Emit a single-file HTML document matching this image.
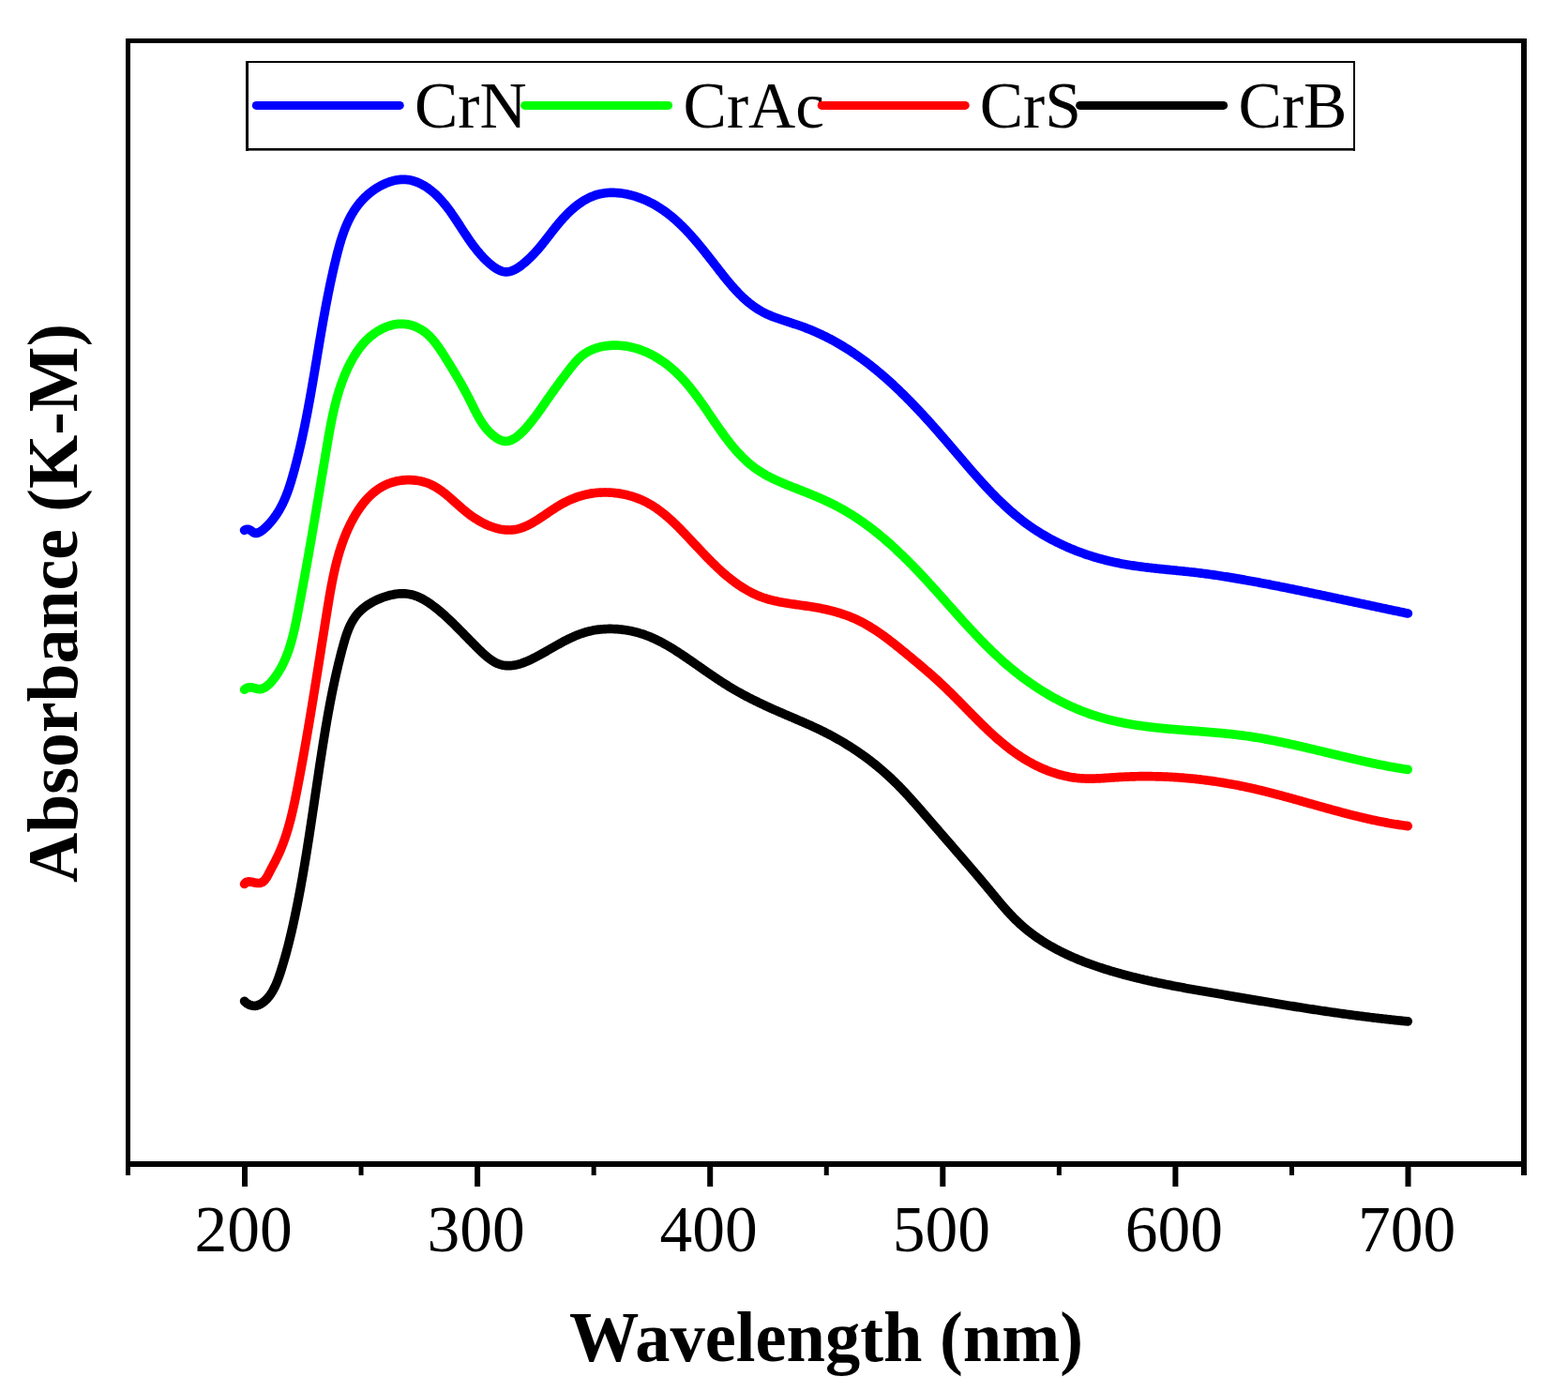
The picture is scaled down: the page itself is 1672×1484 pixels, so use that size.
<!DOCTYPE html>
<html><head><meta charset="utf-8"><title>Absorbance (K-M) vs Wavelength</title><style>html,body{margin:0;padding:0;background:#fff;}svg{display:block;}</style></head><body>
<svg width="1672" height="1484" viewBox="0 0 1672 1484">
<rect x="0" y="0" width="1672" height="1484" fill="#fff"/>
<g fill="#000">
<rect x="134" y="41" width="5" height="1212"/>
<rect x="1622" y="41" width="6" height="1212"/>
<rect x="134" y="41" width="1494" height="5"/>
<rect x="134" y="1238" width="1494" height="6"/>
<rect x="258.00" y="1244" width="6" height="21"/>
<rect x="506.10" y="1244" width="6" height="21"/>
<rect x="754.20" y="1244" width="6" height="21"/>
<rect x="1002.30" y="1244" width="6" height="21"/>
<rect x="1250.40" y="1244" width="6" height="21"/>
<rect x="1498.50" y="1244" width="6" height="21"/>
<rect x="382.55" y="1244" width="5" height="9"/>
<rect x="630.65" y="1244" width="5" height="9"/>
<rect x="878.75" y="1244" width="5" height="9"/>
<rect x="1126.85" y="1244" width="5" height="9"/>
<rect x="1374.95" y="1244" width="5" height="9"/>
</g>
<g font-family="Liberation Serif, serif" font-size="69.5" text-anchor="middle" fill="#000">
<text x="259.50" y="1334">200</text>
<text x="507.60" y="1334">300</text>
<text x="755.70" y="1334">400</text>
<text x="1003.80" y="1334">500</text>
<text x="1251.90" y="1334">600</text>
<text x="1500.00" y="1334">700</text>
</g>
<text x="607" y="1451" font-family="Liberation Serif, serif" font-weight="bold" font-size="76" textLength="548" lengthAdjust="spacingAndGlyphs">Wavelength (nm)</text>
<text transform="translate(82,941) rotate(-90)" x="0" y="0" font-family="Liberation Serif, serif" font-weight="bold" font-size="76" textLength="596" lengthAdjust="spacingAndGlyphs">Absorbance (K-M)</text>
<g fill="#000">
<rect x="262" y="65" width="3" height="96"/>
<rect x="1443" y="65" width="2" height="96"/>
<rect x="262" y="65" width="1183" height="2"/>
<rect x="262" y="158" width="1183" height="2.6"/>
</g>
<g font-family="Liberation Serif, serif" font-size="69.5" fill="#000">
<text x="441.95" y="136">CrN</text>
<text x="728.55" y="136">CrAc</text>
<text x="1044.75" y="136">CrS</text>
<text x="1320.55" y="136">CrB</text>
</g>
<g stroke-width="9" stroke-linecap="round" fill="none">
<line x1="273.30" y1="112.4" x2="426.30" y2="112.4" stroke="#0000ff"/>
<line x1="559.60" y1="112.4" x2="712.60" y2="112.4" stroke="#00ff00"/>
<line x1="876.20" y1="112.4" x2="1029.20" y2="112.4" stroke="#ff0000"/>
<line x1="1151.60" y1="112.4" x2="1304.60" y2="112.4" stroke="#000000"/>
</g>
<g stroke-width="9.7" stroke-linecap="round" stroke-linejoin="round" fill="none">
<path d="M260.60,1067.34 L261.87,1068.53 L263.19,1069.56 L264.54,1070.43 L265.92,1071.14 L267.31,1071.67 L268.71,1072.05 L270.12,1072.26 L271.51,1072.30 L272.89,1072.18 L274.24,1071.90 L275.56,1071.48 L276.85,1070.92 L278.10,1070.26 L279.32,1069.50 L280.50,1068.65 L281.64,1067.75 L282.73,1066.80 L283.78,1065.81 L284.78,1064.77 L285.75,1063.69 L286.68,1062.58 L287.57,1061.43 L288.43,1060.24 L289.25,1059.02 L290.04,1057.77 L290.80,1056.49 L291.53,1055.19 L292.23,1053.86 L292.90,1052.50 L293.55,1051.13 L294.18,1049.74 L294.78,1048.33 L295.37,1046.90 L295.93,1045.46 L296.48,1044.01 L297.01,1042.55 L297.53,1041.09 L298.03,1039.61 L298.53,1038.14 L299.01,1036.66 L299.49,1035.19 L299.95,1033.71 L300.42,1032.24 L300.87,1030.77 L301.32,1029.30 L301.76,1027.84 L302.20,1026.37 L302.63,1024.91 L303.06,1023.46 L303.48,1022.00 L303.89,1020.54 L304.30,1019.09 L304.71,1017.64 L305.11,1016.19 L305.50,1014.74 L305.89,1013.29 L306.27,1011.84 L306.65,1010.39 L307.03,1008.95 L307.40,1007.50 L307.77,1006.06 L308.13,1004.62 L308.49,1003.18 L308.84,1001.73 L309.20,1000.29 L309.54,998.85 L309.89,997.41 L310.23,995.97 L310.57,994.53 L310.90,993.08 L311.23,991.64 L311.56,990.20 L311.88,988.76 L312.21,987.31 L312.53,985.87 L312.85,984.43 L313.16,982.98 L313.48,981.54 L313.79,980.09 L314.10,978.64 L314.41,977.19 L314.71,975.74 L315.01,974.29 L315.32,972.84 L315.62,971.39 L315.91,969.93 L316.21,968.48 L316.50,967.02 L316.80,965.57 L317.09,964.11 L317.38,962.65 L317.66,961.19 L317.95,959.73 L318.23,958.27 L318.51,956.81 L318.79,955.35 L319.07,953.89 L319.35,952.42 L319.62,950.96 L319.90,949.49 L320.17,948.03 L320.44,946.56 L320.71,945.09 L320.98,943.63 L321.24,942.16 L321.51,940.69 L321.77,939.22 L322.03,937.75 L322.29,936.28 L322.55,934.81 L322.81,933.33 L323.06,931.86 L323.32,930.39 L323.57,928.91 L323.83,927.44 L324.08,925.96 L324.33,924.49 L324.58,923.01 L324.82,921.54 L325.07,920.06 L325.32,918.58 L325.56,917.10 L325.80,915.62 L326.05,914.14 L326.29,912.67 L326.53,911.19 L326.77,909.71 L327.01,908.22 L327.24,906.74 L327.48,905.26 L327.72,903.78 L327.95,902.30 L328.19,900.81 L328.42,899.33 L328.65,897.85 L328.88,896.36 L329.12,894.88 L329.35,893.40 L329.58,891.91 L329.80,890.43 L330.03,888.94 L330.26,887.46 L330.49,885.97 L330.71,884.48 L330.94,883.00 L331.17,881.51 L331.39,880.02 L331.62,878.54 L331.84,877.05 L332.06,875.56 L332.29,874.08 L332.51,872.59 L332.73,871.10 L332.95,869.61 L333.18,868.13 L333.40,866.64 L333.62,865.15 L333.84,863.66 L334.06,862.17 L334.28,860.68 L334.50,859.20 L334.72,857.71 L334.94,856.22 L335.16,854.73 L335.38,853.24 L335.60,851.76 L335.82,850.27 L336.04,848.78 L336.26,847.29 L336.48,845.80 L336.70,844.31 L336.92,842.83 L337.14,841.34 L337.36,839.85 L337.58,838.36 L337.80,836.88 L338.02,835.39 L338.24,833.90 L338.46,832.41 L338.68,830.93 L338.91,829.44 L339.13,827.95 L339.35,826.47 L339.57,824.98 L339.80,823.49 L340.02,822.01 L340.24,820.52 L340.47,819.04 L340.69,817.55 L340.92,816.07 L341.14,814.58 L341.37,813.10 L341.59,811.62 L341.82,810.13 L342.05,808.65 L342.28,807.17 L342.51,805.68 L342.74,804.20 L342.97,802.72 L343.20,801.24 L343.43,799.76 L343.66,798.28 L343.90,796.80 L344.13,795.32 L344.37,793.84 L344.60,792.36 L344.84,790.88 L345.08,789.41 L345.32,787.93 L345.55,786.45 L345.80,784.98 L346.04,783.50 L346.28,782.03 L346.52,780.55 L346.77,779.08 L347.01,777.60 L347.26,776.13 L347.51,774.66 L347.76,773.18 L348.01,771.71 L348.26,770.24 L348.52,768.77 L348.77,767.30 L349.03,765.83 L349.29,764.36 L349.55,762.89 L349.81,761.42 L350.07,759.95 L350.34,758.48 L350.61,757.01 L350.88,755.55 L351.15,754.08 L351.42,752.61 L351.69,751.14 L351.97,749.68 L352.25,748.21 L352.53,746.74 L352.81,745.28 L353.10,743.81 L353.39,742.35 L353.68,740.88 L353.97,739.42 L354.26,737.95 L354.56,736.49 L354.86,735.02 L355.16,733.56 L355.46,732.10 L355.77,730.63 L356.08,729.17 L356.39,727.70 L356.70,726.24 L357.02,724.78 L357.34,723.31 L357.66,721.85 L357.99,720.39 L358.32,718.93 L358.65,717.46 L358.98,716.00 L359.32,714.54 L359.66,713.07 L360.00,711.61 L360.35,710.15 L360.70,708.69 L361.05,707.22 L361.41,705.76 L361.77,704.30 L362.13,702.84 L362.50,701.37 L362.87,699.91 L363.24,698.45 L363.61,696.99 L363.99,695.52 L364.38,694.06 L364.77,692.60 L365.16,691.13 L365.55,689.67 L365.95,688.21 L366.35,686.75 L366.77,685.29 L367.18,683.83 L367.61,682.38 L368.05,680.93 L368.50,679.49 L368.97,678.06 L369.44,676.63 L369.94,675.22 L370.45,673.81 L370.98,672.42 L371.53,671.04 L372.09,669.67 L372.69,668.32 L373.30,666.98 L373.94,665.65 L374.61,664.35 L375.30,663.06 L376.02,661.80 L376.77,660.55 L377.56,659.33 L378.37,658.12 L379.22,656.95 L380.10,655.79 L381.02,654.66 L381.98,653.56 L382.98,652.49 L384.01,651.44 L385.09,650.42 L386.19,649.43 L387.33,648.47 L388.50,647.53 L389.70,646.62 L390.93,645.74 L392.19,644.89 L393.47,644.07 L394.78,643.27 L396.10,642.50 L397.45,641.75 L398.81,641.04 L400.19,640.34 L401.59,639.68 L403.00,639.05 L404.42,638.44 L405.85,637.85 L407.28,637.30 L408.73,636.77 L410.18,636.26 L411.63,635.79 L413.09,635.35 L414.55,634.93 L416.02,634.55 L417.48,634.21 L418.95,633.90 L420.42,633.62 L421.89,633.39 L423.35,633.19 L424.82,633.04 L426.28,632.92 L427.74,632.85 L429.20,632.83 L430.65,632.85 L432.10,632.91 L433.54,633.03 L434.98,633.20 L436.40,633.42 L437.82,633.69 L439.24,634.01 L440.64,634.39 L442.03,634.82 L443.42,635.30 L444.79,635.83 L446.16,636.40 L447.51,637.01 L448.86,637.66 L450.19,638.35 L451.52,639.07 L452.83,639.83 L454.14,640.61 L455.43,641.42 L456.71,642.26 L457.98,643.12 L459.24,644.00 L460.49,644.90 L461.73,645.81 L462.95,646.74 L464.16,647.67 L465.36,648.62 L466.55,649.57 L467.73,650.53 L468.90,651.50 L470.05,652.48 L471.20,653.46 L472.33,654.45 L473.46,655.44 L474.58,656.44 L475.68,657.45 L476.78,658.46 L477.88,659.47 L478.96,660.49 L480.04,661.51 L481.11,662.54 L482.17,663.56 L483.23,664.59 L484.28,665.63 L485.33,666.66 L486.37,667.70 L487.41,668.73 L488.44,669.77 L489.47,670.81 L490.49,671.84 L491.52,672.88 L492.54,673.92 L493.56,674.96 L494.58,676.00 L495.60,677.04 L496.62,678.08 L497.64,679.13 L498.67,680.18 L499.70,681.23 L500.74,682.29 L501.79,683.35 L502.84,684.42 L503.90,685.49 L504.97,686.57 L506.05,687.65 L507.14,688.74 L508.24,689.84 L509.36,690.95 L510.49,692.07 L511.63,693.19 L512.79,694.30 L513.95,695.42 L515.14,696.52 L516.33,697.61 L517.54,698.68 L518.76,699.72 L519.99,700.74 L521.23,701.72 L522.48,702.66 L523.74,703.56 L525.02,704.41 L526.30,705.21 L527.59,705.95 L528.90,706.63 L530.21,707.25 L531.53,707.79 L532.86,708.26 L534.20,708.65 L535.54,708.98 L536.89,709.25 L538.25,709.45 L539.62,709.58 L540.99,709.66 L542.37,709.68 L543.75,709.64 L545.14,709.54 L546.53,709.40 L547.93,709.21 L549.32,708.96 L550.73,708.68 L552.13,708.34 L553.53,707.97 L554.94,707.56 L556.35,707.11 L557.76,706.62 L559.17,706.10 L560.58,705.55 L561.98,704.97 L563.39,704.36 L564.80,703.73 L566.20,703.08 L567.60,702.40 L569.00,701.71 L570.39,701.00 L571.78,700.27 L573.17,699.53 L574.55,698.78 L575.93,698.02 L577.30,697.26 L578.67,696.49 L580.03,695.72 L581.38,694.95 L582.72,694.18 L584.06,693.41 L585.40,692.64 L586.73,691.88 L588.05,691.12 L589.37,690.36 L590.69,689.61 L592.00,688.86 L593.32,688.12 L594.63,687.38 L595.93,686.65 L597.24,685.93 L598.55,685.22 L599.85,684.52 L601.16,683.83 L602.47,683.14 L603.78,682.47 L605.09,681.81 L606.40,681.17 L607.72,680.53 L609.04,679.91 L610.36,679.30 L611.69,678.71 L613.03,678.14 L614.36,677.58 L615.71,677.04 L617.06,676.51 L618.42,676.00 L619.78,675.52 L621.16,675.05 L622.54,674.60 L623.93,674.17 L625.33,673.77 L626.74,673.38 L628.16,673.02 L629.59,672.69 L631.03,672.37 L632.48,672.08 L633.94,671.82 L635.41,671.58 L636.89,671.36 L638.38,671.17 L639.88,670.99 L641.38,670.85 L642.89,670.72 L644.41,670.62 L645.93,670.54 L647.45,670.48 L648.98,670.45 L650.51,670.44 L652.05,670.45 L653.58,670.48 L655.12,670.53 L656.65,670.61 L658.19,670.71 L659.73,670.83 L661.26,670.97 L662.79,671.13 L664.32,671.31 L665.85,671.51 L667.37,671.74 L668.89,671.98 L670.40,672.24 L671.91,672.53 L673.41,672.83 L674.90,673.16 L676.38,673.50 L677.86,673.87 L679.32,674.25 L680.78,674.66 L682.23,675.08 L683.66,675.52 L685.09,675.98 L686.51,676.46 L687.92,676.95 L689.31,677.47 L690.70,677.99 L692.09,678.54 L693.46,679.10 L694.82,679.68 L696.18,680.27 L697.53,680.87 L698.87,681.49 L700.21,682.13 L701.54,682.78 L702.86,683.44 L704.17,684.11 L705.48,684.79 L706.78,685.49 L708.08,686.20 L709.37,686.91 L710.66,687.64 L711.94,688.38 L713.22,689.13 L714.49,689.89 L715.76,690.65 L717.03,691.43 L718.29,692.21 L719.55,693.00 L720.80,693.79 L722.05,694.60 L723.30,695.40 L724.55,696.22 L725.79,697.04 L727.04,697.86 L728.28,698.69 L729.52,699.53 L730.75,700.36 L731.99,701.20 L733.23,702.05 L734.46,702.89 L735.70,703.74 L736.93,704.59 L738.16,705.45 L739.40,706.30 L740.63,707.16 L741.86,708.02 L743.09,708.87 L744.33,709.73 L745.56,710.59 L746.79,711.45 L748.03,712.31 L749.26,713.17 L750.49,714.03 L751.73,714.89 L752.97,715.75 L754.20,716.61 L755.44,717.46 L756.68,718.31 L757.92,719.16 L759.17,720.01 L760.41,720.86 L761.66,721.70 L762.90,722.54 L764.15,723.38 L765.41,724.21 L766.66,725.04 L767.92,725.87 L769.18,726.69 L770.44,727.50 L771.70,728.31 L772.97,729.12 L774.24,729.92 L775.51,730.72 L776.79,731.51 L778.07,732.29 L779.35,733.07 L780.64,733.84 L781.93,734.60 L783.22,735.35 L784.52,736.11 L785.82,736.85 L787.12,737.59 L788.43,738.32 L789.74,739.04 L791.05,739.76 L792.37,740.48 L793.69,741.18 L795.01,741.89 L796.33,742.58 L797.66,743.28 L798.99,743.96 L800.32,744.65 L801.66,745.32 L803.00,745.99 L804.34,746.66 L805.68,747.33 L807.02,747.98 L808.37,748.64 L809.72,749.29 L811.07,749.93 L812.42,750.58 L813.78,751.21 L815.13,751.85 L816.49,752.48 L817.85,753.11 L819.22,753.73 L820.58,754.35 L821.95,754.97 L823.31,755.59 L824.68,756.20 L826.05,756.81 L827.42,757.41 L828.79,758.02 L830.17,758.62 L831.54,759.22 L832.92,759.82 L834.30,760.41 L835.67,761.01 L837.05,761.60 L838.43,762.19 L839.81,762.78 L841.19,763.37 L842.57,763.96 L843.95,764.55 L845.32,765.14 L846.70,765.74 L848.08,766.33 L849.46,766.92 L850.84,767.51 L852.22,768.11 L853.59,768.70 L854.97,769.30 L856.34,769.90 L857.72,770.50 L859.09,771.11 L860.46,771.71 L861.83,772.32 L863.20,772.94 L864.56,773.55 L865.93,774.17 L867.29,774.80 L868.65,775.43 L870.01,776.06 L871.37,776.70 L872.72,777.34 L874.07,777.99 L875.42,778.64 L876.77,779.30 L878.11,779.96 L879.45,780.63 L880.79,781.31 L882.12,781.99 L883.45,782.68 L884.78,783.37 L886.10,784.07 L887.42,784.78 L888.74,785.50 L890.05,786.22 L891.36,786.94 L892.67,787.68 L893.98,788.42 L895.27,789.16 L896.57,789.92 L897.86,790.67 L899.15,791.44 L900.44,792.21 L901.72,792.99 L903.00,793.77 L904.27,794.56 L905.54,795.36 L906.81,796.16 L908.07,796.97 L909.32,797.78 L910.58,798.60 L911.83,799.43 L913.07,800.26 L914.31,801.10 L915.55,801.95 L916.78,802.80 L918.01,803.65 L919.23,804.52 L920.45,805.39 L921.67,806.26 L922.88,807.15 L924.08,808.03 L925.29,808.93 L926.48,809.83 L927.67,810.73 L928.86,811.65 L930.04,812.57 L931.22,813.49 L932.39,814.42 L933.56,815.36 L934.72,816.30 L935.88,817.25 L937.03,818.20 L938.18,819.16 L939.32,820.13 L940.46,821.10 L941.59,822.08 L942.72,823.06 L943.84,824.05 L944.96,825.05 L946.07,826.05 L947.17,827.06 L948.27,828.07 L949.37,829.09 L950.46,830.12 L951.54,831.15 L952.62,832.19 L953.69,833.23 L954.76,834.28 L955.82,835.33 L956.88,836.39 L957.93,837.45 L958.98,838.52 L960.03,839.59 L961.07,840.67 L962.10,841.75 L963.14,842.84 L964.16,843.93 L965.19,845.02 L966.21,846.12 L967.23,847.22 L968.25,848.32 L969.26,849.43 L970.27,850.54 L971.27,851.65 L972.28,852.77 L973.28,853.88 L974.28,855.01 L975.28,856.13 L976.27,857.25 L977.27,858.38 L978.26,859.51 L979.25,860.64 L980.24,861.77 L981.23,862.91 L982.22,864.04 L983.20,865.18 L984.19,866.32 L985.17,867.45 L986.16,868.59 L987.14,869.73 L988.13,870.87 L989.11,872.01 L990.10,873.15 L991.08,874.29 L992.07,875.43 L993.05,876.57 L994.04,877.71 L995.02,878.84 L996.01,879.98 L997.00,881.12 L997.98,882.26 L998.97,883.40 L999.95,884.53 L1000.94,885.67 L1001.93,886.81 L1002.91,887.94 L1003.90,889.08 L1004.88,890.22 L1005.87,891.35 L1006.85,892.49 L1007.84,893.62 L1008.82,894.75 L1009.81,895.89 L1010.79,897.02 L1011.77,898.15 L1012.76,899.29 L1013.74,900.42 L1014.72,901.55 L1015.70,902.68 L1016.68,903.81 L1017.66,904.94 L1018.64,906.07 L1019.62,907.20 L1020.59,908.33 L1021.57,909.45 L1022.55,910.58 L1023.52,911.71 L1024.49,912.83 L1025.47,913.95 L1026.44,915.08 L1027.41,916.20 L1028.38,917.33 L1029.35,918.45 L1030.31,919.57 L1031.28,920.69 L1032.25,921.82 L1033.21,922.94 L1034.18,924.06 L1035.14,925.19 L1036.11,926.31 L1037.07,927.43 L1038.03,928.56 L1039.00,929.69 L1039.96,930.81 L1040.92,931.94 L1041.88,933.07 L1042.84,934.20 L1043.80,935.34 L1044.76,936.47 L1045.72,937.61 L1046.69,938.75 L1047.65,939.89 L1048.61,941.03 L1049.57,942.17 L1050.53,943.32 L1051.49,944.47 L1052.45,945.62 L1053.41,946.77 L1054.37,947.93 L1055.34,949.09 L1056.30,950.25 L1057.26,951.42 L1058.23,952.58 L1059.19,953.75 L1060.16,954.92 L1061.13,956.10 L1062.10,957.27 L1063.07,958.44 L1064.04,959.61 L1065.02,960.78 L1066.00,961.94 L1066.99,963.11 L1067.97,964.27 L1068.97,965.43 L1069.96,966.58 L1070.96,967.73 L1071.97,968.88 L1072.97,970.01 L1073.99,971.15 L1075.01,972.28 L1076.04,973.40 L1077.07,974.51 L1078.11,975.62 L1079.15,976.71 L1080.20,977.80 L1081.26,978.88 L1082.33,979.95 L1083.40,981.01 L1084.48,982.06 L1085.57,983.09 L1086.67,984.12 L1087.77,985.13 L1088.88,986.14 L1090.01,987.13 L1091.13,988.11 L1092.27,989.08 L1093.41,990.04 L1094.57,990.99 L1095.72,991.92 L1096.89,992.85 L1098.06,993.77 L1099.24,994.67 L1100.43,995.57 L1101.63,996.46 L1102.83,997.33 L1104.03,998.20 L1105.25,999.05 L1106.47,999.90 L1107.70,1000.74 L1108.93,1001.56 L1110.17,1002.38 L1111.41,1003.19 L1112.67,1003.99 L1113.92,1004.78 L1115.19,1005.56 L1116.46,1006.33 L1117.73,1007.09 L1119.01,1007.84 L1120.30,1008.59 L1121.59,1009.32 L1122.89,1010.05 L1124.19,1010.77 L1125.50,1011.48 L1126.81,1012.18 L1128.13,1012.87 L1129.45,1013.56 L1130.77,1014.24 L1132.11,1014.91 L1133.44,1015.57 L1134.78,1016.22 L1136.13,1016.86 L1137.48,1017.50 L1138.83,1018.13 L1140.19,1018.76 L1141.55,1019.37 L1142.91,1019.98 L1144.28,1020.58 L1145.65,1021.17 L1147.03,1021.76 L1148.41,1022.34 L1149.79,1022.91 L1151.18,1023.48 L1152.57,1024.04 L1153.96,1024.59 L1155.36,1025.14 L1156.76,1025.68 L1158.16,1026.21 L1159.56,1026.74 L1160.97,1027.26 L1162.38,1027.78 L1163.79,1028.29 L1165.21,1028.79 L1166.62,1029.29 L1168.04,1029.78 L1169.47,1030.27 L1170.89,1030.75 L1172.31,1031.23 L1173.74,1031.70 L1175.17,1032.16 L1176.60,1032.62 L1178.03,1033.08 L1179.47,1033.53 L1180.90,1033.97 L1182.34,1034.42 L1183.78,1034.85 L1185.22,1035.28 L1186.66,1035.71 L1188.10,1036.13 L1189.54,1036.55 L1190.98,1036.96 L1192.43,1037.37 L1193.87,1037.78 L1195.32,1038.18 L1196.76,1038.58 L1198.21,1038.97 L1199.66,1039.36 L1201.11,1039.74 L1202.56,1040.13 L1204.01,1040.50 L1205.46,1040.88 L1206.91,1041.25 L1208.37,1041.61 L1209.82,1041.98 L1211.28,1042.33 L1212.73,1042.69 L1214.19,1043.04 L1215.65,1043.39 L1217.11,1043.74 L1218.56,1044.08 L1220.02,1044.42 L1221.48,1044.76 L1222.95,1045.09 L1224.41,1045.42 L1225.87,1045.75 L1227.33,1046.07 L1228.80,1046.39 L1230.26,1046.71 L1231.72,1047.02 L1233.19,1047.34 L1234.66,1047.65 L1236.12,1047.96 L1237.59,1048.26 L1239.06,1048.56 L1240.53,1048.87 L1242.00,1049.16 L1243.46,1049.46 L1244.93,1049.75 L1246.40,1050.05 L1247.87,1050.33 L1249.35,1050.62 L1250.82,1050.91 L1252.29,1051.19 L1253.76,1051.47 L1255.23,1051.75 L1256.71,1052.03 L1258.18,1052.31 L1259.66,1052.58 L1261.13,1052.86 L1262.60,1053.13 L1264.08,1053.40 L1265.55,1053.67 L1267.03,1053.93 L1268.50,1054.20 L1269.98,1054.46 L1271.46,1054.73 L1272.93,1054.99 L1274.41,1055.25 L1275.89,1055.51 L1277.36,1055.77 L1278.84,1056.03 L1280.32,1056.29 L1281.80,1056.55 L1283.27,1056.80 L1284.75,1057.06 L1286.23,1057.31 L1287.71,1057.57 L1289.19,1057.82 L1290.66,1058.07 L1292.14,1058.33 L1293.62,1058.58 L1295.10,1058.83 L1296.58,1059.08 L1298.05,1059.34 L1299.53,1059.59 L1301.01,1059.84 L1302.49,1060.09 L1303.97,1060.34 L1305.45,1060.59 L1306.92,1060.85 L1308.40,1061.10 L1309.88,1061.35 L1311.36,1061.60 L1312.84,1061.85 L1314.31,1062.10 L1315.79,1062.36 L1317.27,1062.61 L1318.75,1062.86 L1320.23,1063.11 L1321.70,1063.36 L1323.18,1063.61 L1324.66,1063.86 L1326.14,1064.11 L1327.61,1064.36 L1329.09,1064.61 L1330.57,1064.86 L1332.05,1065.11 L1333.53,1065.36 L1335.00,1065.61 L1336.48,1065.86 L1337.96,1066.11 L1339.44,1066.35 L1340.92,1066.60 L1342.39,1066.85 L1343.87,1067.10 L1345.35,1067.34 L1346.83,1067.59 L1348.31,1067.84 L1349.79,1068.08 L1351.26,1068.33 L1352.74,1068.57 L1354.22,1068.82 L1355.70,1069.06 L1357.18,1069.30 L1358.66,1069.55 L1360.13,1069.79 L1361.61,1070.03 L1363.09,1070.27 L1364.57,1070.52 L1366.05,1070.76 L1367.53,1071.00 L1369.01,1071.24 L1370.49,1071.48 L1371.96,1071.71 L1373.44,1071.95 L1374.92,1072.19 L1376.40,1072.43 L1377.88,1072.66 L1379.36,1072.90 L1380.84,1073.13 L1382.32,1073.37 L1383.80,1073.60 L1385.28,1073.83 L1386.76,1074.06 L1388.24,1074.30 L1389.72,1074.53 L1391.20,1074.76 L1392.68,1074.99 L1394.16,1075.21 L1395.64,1075.44 L1397.12,1075.67 L1398.60,1075.90 L1400.08,1076.12 L1401.57,1076.35 L1403.05,1076.57 L1404.53,1076.79 L1406.01,1077.01 L1407.49,1077.24 L1408.97,1077.46 L1410.45,1077.68 L1411.94,1077.89 L1413.42,1078.11 L1414.90,1078.33 L1416.38,1078.54 L1417.87,1078.76 L1419.35,1078.97 L1420.83,1079.19 L1422.31,1079.40 L1423.80,1079.61 L1425.28,1079.82 L1426.76,1080.03 L1428.25,1080.23 L1429.73,1080.44 L1431.22,1080.65 L1432.70,1080.85 L1434.18,1081.06 L1435.67,1081.26 L1437.15,1081.46 L1438.64,1081.66 L1440.12,1081.86 L1441.61,1082.06 L1443.09,1082.25 L1444.58,1082.45 L1446.07,1082.64 L1447.55,1082.84 L1449.04,1083.03 L1450.52,1083.22 L1452.01,1083.41 L1453.50,1083.60 L1454.98,1083.79 L1456.47,1083.97 L1457.96,1084.16 L1459.45,1084.34 L1460.94,1084.52 L1462.42,1084.70 L1463.91,1084.88 L1465.40,1085.06 L1466.89,1085.24 L1468.38,1085.41 L1469.87,1085.59 L1471.36,1085.76 L1472.85,1085.93 L1474.34,1086.10 L1475.83,1086.27 L1477.32,1086.43 L1478.81,1086.60 L1480.30,1086.76 L1481.79,1086.93 L1483.28,1087.09 L1484.77,1087.25 L1486.27,1087.40 L1487.76,1087.56 L1489.25,1087.72 L1490.74,1087.87 L1492.24,1088.02 L1493.73,1088.17 L1495.22,1088.32 L1496.72,1088.47 L1498.21,1088.61 L1499.71,1088.76 L1501.20,1088.90" stroke="#000000"/>
<path d="M260.59,942.47 L261.57,941.22 L262.69,940.44 L263.94,940.03 L265.30,939.93 L266.73,940.04 L268.21,940.29 L269.72,940.60 L271.24,940.91 L272.74,941.19 L274.23,941.39 L275.66,941.48 L277.04,941.40 L278.33,941.12 L279.53,940.61 L280.65,939.87 L281.68,938.95 L282.65,937.87 L283.55,936.65 L284.41,935.33 L285.22,933.93 L286.00,932.49 L286.76,931.03 L287.51,929.57 L288.25,928.14 L288.99,926.74 L289.71,925.35 L290.43,923.99 L291.14,922.64 L291.84,921.30 L292.53,919.97 L293.22,918.65 L293.89,917.33 L294.55,916.02 L295.20,914.71 L295.84,913.39 L296.47,912.07 L297.09,910.74 L297.69,909.41 L298.28,908.07 L298.86,906.73 L299.43,905.38 L299.99,904.02 L300.54,902.66 L301.08,901.29 L301.61,899.91 L302.13,898.54 L302.64,897.15 L303.14,895.76 L303.63,894.37 L304.11,892.97 L304.58,891.57 L305.04,890.16 L305.50,888.75 L305.94,887.34 L306.38,885.92 L306.81,884.49 L307.24,883.07 L307.65,881.63 L308.06,880.20 L308.46,878.76 L308.85,877.32 L309.24,875.88 L309.62,874.43 L309.99,872.98 L310.36,871.53 L310.72,870.07 L311.08,868.61 L311.43,867.15 L311.78,865.69 L312.12,864.22 L312.46,862.76 L312.79,861.29 L313.11,859.82 L313.44,858.34 L313.76,856.87 L314.07,855.39 L314.38,853.92 L314.69,852.44 L315.00,850.96 L315.30,849.48 L315.60,848.00 L315.89,846.52 L316.19,845.04 L316.48,843.56 L316.77,842.08 L317.06,840.59 L317.35,839.11 L317.63,837.63 L317.92,836.15 L318.20,834.67 L318.48,833.19 L318.77,831.71 L319.05,830.23 L319.33,828.75 L319.60,827.27 L319.88,825.79 L320.16,824.31 L320.43,822.83 L320.71,821.35 L320.98,819.87 L321.26,818.40 L321.53,816.92 L321.80,815.44 L322.07,813.96 L322.34,812.49 L322.61,811.01 L322.87,809.53 L323.14,808.06 L323.41,806.58 L323.67,805.10 L323.93,803.63 L324.20,802.15 L324.46,800.68 L324.72,799.20 L324.98,797.73 L325.24,796.25 L325.50,794.78 L325.76,793.30 L326.02,791.83 L326.28,790.35 L326.53,788.88 L326.79,787.40 L327.04,785.93 L327.30,784.45 L327.55,782.98 L327.80,781.50 L328.06,780.03 L328.31,778.56 L328.56,777.08 L328.81,775.61 L329.06,774.14 L329.31,772.66 L329.56,771.19 L329.81,769.71 L330.06,768.24 L330.30,766.77 L330.55,765.29 L330.79,763.82 L331.04,762.35 L331.29,760.87 L331.53,759.40 L331.77,757.93 L332.02,756.45 L332.26,754.98 L332.50,753.51 L332.75,752.03 L332.99,750.56 L333.23,749.08 L333.47,747.61 L333.71,746.14 L333.95,744.66 L334.19,743.19 L334.43,741.71 L334.67,740.24 L334.91,738.76 L335.15,737.29 L335.39,735.82 L335.62,734.34 L335.86,732.87 L336.10,731.39 L336.34,729.92 L336.57,728.44 L336.81,726.97 L337.05,725.49 L337.28,724.01 L337.52,722.54 L337.75,721.06 L337.99,719.59 L338.23,718.11 L338.46,716.63 L338.70,715.16 L338.93,713.68 L339.17,712.20 L339.40,710.72 L339.63,709.25 L339.87,707.77 L340.10,706.29 L340.34,704.81 L340.57,703.33 L340.81,701.85 L341.04,700.37 L341.27,698.89 L341.51,697.41 L341.74,695.93 L341.98,694.45 L342.21,692.97 L342.44,691.49 L342.68,690.01 L342.91,688.53 L343.15,687.05 L343.38,685.57 L343.62,684.08 L343.85,682.60 L344.09,681.12 L344.32,679.63 L344.55,678.15 L344.79,676.66 L345.02,675.18 L345.26,673.69 L345.50,672.21 L345.73,670.72 L345.97,669.24 L346.20,667.75 L346.44,666.26 L346.68,664.78 L346.91,663.29 L347.15,661.80 L347.39,660.31 L347.62,658.82 L347.86,657.33 L348.10,655.84 L348.34,654.35 L348.58,652.86 L348.82,651.37 L349.05,649.88 L349.29,648.38 L349.54,646.89 L349.78,645.40 L350.02,643.90 L350.27,642.41 L350.51,640.92 L350.76,639.43 L351.01,637.94 L351.26,636.44 L351.52,634.95 L351.77,633.46 L352.03,631.97 L352.30,630.48 L352.56,628.99 L352.83,627.51 L353.11,626.02 L353.38,624.54 L353.66,623.05 L353.95,621.57 L354.24,620.09 L354.53,618.61 L354.83,617.13 L355.13,615.65 L355.44,614.18 L355.75,612.71 L356.07,611.24 L356.40,609.77 L356.73,608.30 L357.06,606.84 L357.40,605.38 L357.75,603.92 L358.11,602.46 L358.47,601.00 L358.84,599.55 L359.22,598.10 L359.60,596.66 L359.99,595.21 L360.39,593.77 L360.80,592.34 L361.21,590.90 L361.63,589.47 L362.07,588.04 L362.51,586.62 L362.96,585.20 L363.41,583.78 L363.88,582.37 L364.36,580.96 L364.85,579.56 L365.34,578.16 L365.85,576.76 L366.37,575.37 L366.89,573.98 L367.43,572.60 L367.98,571.22 L368.54,569.84 L369.11,568.47 L369.69,567.11 L370.29,565.75 L370.89,564.39 L371.51,563.04 L372.14,561.69 L372.78,560.35 L373.44,559.02 L374.10,557.69 L374.78,556.37 L375.48,555.05 L376.18,553.74 L376.90,552.43 L377.64,551.13 L378.38,549.83 L379.15,548.55 L379.92,547.27 L380.71,546.00 L381.52,544.74 L382.34,543.50 L383.18,542.26 L384.03,541.04 L384.90,539.83 L385.78,538.64 L386.68,537.46 L387.60,536.29 L388.53,535.14 L389.49,534.01 L390.46,532.90 L391.44,531.81 L392.45,530.74 L393.47,529.69 L394.52,528.66 L395.58,527.65 L396.66,526.66 L397.76,525.70 L398.88,524.77 L400.02,523.86 L401.17,522.97 L402.35,522.12 L403.55,521.29 L404.78,520.49 L406.02,519.72 L407.28,518.98 L408.57,518.27 L409.87,517.59 L411.20,516.95 L412.55,516.34 L413.93,515.77 L415.33,515.23 L416.75,514.72 L418.19,514.26 L419.66,513.83 L421.15,513.44 L422.66,513.09 L424.19,512.77 L425.73,512.50 L427.29,512.26 L428.86,512.07 L430.44,511.91 L432.03,511.79 L433.62,511.71 L435.21,511.67 L436.80,511.67 L438.39,511.71 L439.97,511.79 L441.55,511.90 L443.11,512.06 L444.67,512.26 L446.21,512.50 L447.73,512.77 L449.23,513.09 L450.71,513.45 L452.17,513.85 L453.60,514.29 L455.01,514.77 L456.39,515.28 L457.76,515.83 L459.10,516.42 L460.42,517.04 L461.72,517.69 L463.00,518.37 L464.26,519.08 L465.51,519.82 L466.74,520.59 L467.96,521.38 L469.16,522.19 L470.35,523.03 L471.53,523.88 L472.70,524.76 L473.86,525.66 L475.01,526.57 L476.16,527.50 L477.30,528.44 L478.43,529.39 L479.56,530.36 L480.68,531.34 L481.80,532.32 L482.92,533.31 L484.04,534.31 L485.16,535.31 L486.28,536.32 L487.40,537.33 L488.53,538.34 L489.66,539.34 L490.80,540.35 L491.94,541.35 L493.09,542.34 L494.25,543.33 L495.42,544.32 L496.60,545.29 L497.79,546.25 L499.00,547.20 L500.21,548.14 L501.44,549.06 L502.69,549.97 L503.95,550.86 L505.22,551.73 L506.51,552.58 L507.81,553.41 L509.12,554.23 L510.44,555.02 L511.77,555.79 L513.12,556.53 L514.47,557.25 L515.83,557.95 L517.20,558.61 L518.57,559.25 L519.96,559.87 L521.35,560.45 L522.74,561.00 L524.14,561.52 L525.55,562.01 L526.96,562.47 L528.37,562.89 L529.79,563.27 L531.21,563.62 L532.63,563.94 L534.05,564.21 L535.47,564.44 L536.89,564.64 L538.31,564.79 L539.73,564.90 L541.15,564.97 L542.57,565.00 L543.98,564.98 L545.39,564.91 L546.79,564.80 L548.19,564.64 L549.59,564.43 L550.97,564.17 L552.36,563.86 L553.73,563.50 L555.10,563.09 L556.47,562.64 L557.83,562.15 L559.18,561.62 L560.53,561.05 L561.87,560.45 L563.21,559.81 L564.55,559.14 L565.88,558.44 L567.21,557.71 L568.53,556.96 L569.86,556.18 L571.18,555.39 L572.49,554.57 L573.81,553.74 L575.12,552.89 L576.43,552.03 L577.74,551.16 L579.05,550.28 L580.35,549.40 L581.66,548.51 L582.97,547.62 L584.27,546.73 L585.58,545.84 L586.88,544.96 L588.19,544.08 L589.50,543.21 L590.81,542.36 L592.12,541.51 L593.43,540.68 L594.74,539.87 L596.06,539.07 L597.38,538.30 L598.70,537.54 L600.02,536.81 L601.35,536.10 L602.68,535.41 L604.02,534.73 L605.35,534.08 L606.70,533.46 L608.04,532.85 L609.40,532.26 L610.75,531.70 L612.11,531.15 L613.48,530.63 L614.85,530.13 L616.23,529.66 L617.62,529.20 L619.01,528.77 L620.40,528.36 L621.81,527.97 L623.22,527.61 L624.63,527.27 L626.06,526.95 L627.49,526.66 L628.93,526.38 L630.38,526.14 L631.84,525.91 L633.31,525.71 L634.78,525.54 L636.26,525.38 L637.75,525.26 L639.25,525.15 L640.75,525.07 L642.26,525.01 L643.77,524.98 L645.28,524.97 L646.80,524.98 L648.31,525.02 L649.83,525.08 L651.35,525.16 L652.88,525.27 L654.40,525.40 L655.92,525.55 L657.43,525.73 L658.95,525.93 L660.46,526.15 L661.97,526.39 L663.47,526.66 L664.97,526.95 L666.46,527.26 L667.94,527.60 L669.42,527.95 L670.89,528.33 L672.35,528.74 L673.80,529.16 L675.24,529.61 L676.68,530.08 L678.09,530.57 L679.50,531.08 L680.90,531.62 L682.28,532.18 L683.65,532.76 L685.00,533.36 L686.34,533.98 L687.66,534.63 L688.97,535.29 L690.27,535.97 L691.56,536.68 L692.84,537.40 L694.10,538.14 L695.35,538.90 L696.59,539.68 L697.82,540.47 L699.04,541.28 L700.24,542.11 L701.44,542.95 L702.63,543.81 L703.81,544.68 L704.98,545.57 L706.14,546.47 L707.29,547.39 L708.44,548.31 L709.57,549.26 L710.70,550.21 L711.83,551.17 L712.94,552.15 L714.05,553.14 L715.15,554.14 L716.25,555.14 L717.34,556.16 L718.43,557.19 L719.51,558.22 L720.59,559.27 L721.66,560.32 L722.73,561.38 L723.79,562.44 L724.86,563.52 L725.92,564.59 L726.97,565.68 L728.03,566.77 L729.08,567.86 L730.13,568.96 L731.18,570.06 L732.23,571.16 L733.27,572.27 L734.32,573.38 L735.37,574.49 L736.41,575.61 L737.46,576.72 L738.51,577.84 L739.55,578.96 L740.60,580.08 L741.65,581.19 L742.70,582.31 L743.75,583.43 L744.80,584.55 L745.85,585.66 L746.90,586.78 L747.95,587.89 L749.01,589.00 L750.07,590.11 L751.13,591.22 L752.19,592.32 L753.25,593.42 L754.32,594.51 L755.39,595.61 L756.46,596.69 L757.53,597.77 L758.61,598.85 L759.69,599.92 L760.78,600.99 L761.86,602.05 L762.96,603.10 L764.05,604.15 L765.15,605.19 L766.25,606.22 L767.36,607.25 L768.47,608.27 L769.59,609.27 L770.71,610.27 L771.84,611.27 L772.97,612.25 L774.10,613.22 L775.25,614.18 L776.39,615.13 L777.55,616.07 L778.70,617.00 L779.87,617.92 L781.04,618.83 L782.22,619.72 L783.40,620.61 L784.59,621.48 L785.79,622.33 L786.99,623.18 L788.20,624.01 L789.42,624.82 L790.65,625.63 L791.88,626.41 L793.12,627.19 L794.37,627.94 L795.62,628.68 L796.89,629.41 L798.16,630.12 L799.44,630.81 L800.73,631.49 L802.03,632.15 L803.34,632.79 L804.66,633.41 L805.98,634.02 L807.32,634.60 L808.66,635.17 L810.02,635.72 L811.38,636.25 L812.76,636.76 L814.14,637.25 L815.54,637.71 L816.94,638.16 L818.36,638.59 L819.78,639.00 L821.21,639.39 L822.65,639.77 L824.10,640.13 L825.56,640.47 L827.02,640.81 L828.49,641.12 L829.97,641.43 L831.45,641.72 L832.94,642.00 L834.44,642.27 L835.94,642.53 L837.44,642.78 L838.94,643.03 L840.45,643.26 L841.97,643.50 L843.48,643.72 L845.00,643.94 L846.52,644.16 L848.04,644.37 L849.56,644.59 L851.09,644.80 L852.61,645.01 L854.13,645.22 L855.65,645.43 L857.18,645.64 L858.69,645.86 L860.21,646.08 L861.73,646.30 L863.24,646.53 L864.75,646.76 L866.26,647.00 L867.76,647.25 L869.26,647.51 L870.75,647.77 L872.24,648.04 L873.73,648.32 L875.21,648.61 L876.69,648.90 L878.16,649.21 L879.63,649.52 L881.10,649.85 L882.56,650.18 L884.01,650.53 L885.47,650.88 L886.91,651.24 L888.35,651.62 L889.79,652.00 L891.22,652.40 L892.65,652.81 L894.07,653.23 L895.49,653.66 L896.90,654.11 L898.31,654.57 L899.71,655.04 L901.11,655.52 L902.50,656.02 L903.88,656.53 L905.26,657.05 L906.63,657.59 L908.00,658.14 L909.36,658.71 L910.72,659.29 L912.07,659.89 L913.41,660.50 L914.75,661.13 L916.08,661.77 L917.40,662.43 L918.72,663.11 L920.03,663.80 L921.34,664.50 L922.64,665.22 L923.94,665.95 L925.23,666.70 L926.51,667.45 L927.79,668.22 L929.06,669.01 L930.33,669.80 L931.60,670.60 L932.85,671.42 L934.11,672.25 L935.36,673.08 L936.60,673.93 L937.84,674.78 L939.08,675.65 L940.31,676.52 L941.54,677.40 L942.76,678.29 L943.98,679.18 L945.20,680.08 L946.41,680.99 L947.62,681.90 L948.83,682.82 L950.03,683.75 L951.23,684.68 L952.42,685.61 L953.62,686.55 L954.81,687.49 L955.99,688.44 L957.18,689.38 L958.36,690.33 L959.54,691.28 L960.71,692.24 L961.89,693.19 L963.06,694.15 L964.23,695.10 L965.40,696.06 L966.57,697.01 L967.73,697.97 L968.90,698.92 L970.06,699.88 L971.22,700.83 L972.37,701.79 L973.53,702.75 L974.68,703.70 L975.83,704.66 L976.98,705.62 L978.13,706.58 L979.27,707.54 L980.41,708.51 L981.56,709.47 L982.69,710.43 L983.83,711.40 L984.96,712.37 L986.09,713.34 L987.22,714.31 L988.35,715.29 L989.47,716.26 L990.60,717.24 L991.72,718.22 L992.83,719.21 L993.95,720.19 L995.06,721.18 L996.17,722.18 L997.28,723.17 L998.38,724.17 L999.49,725.17 L1000.59,726.18 L1001.68,727.18 L1002.78,728.20 L1003.87,729.21 L1004.96,730.23 L1006.05,731.25 L1007.13,732.28 L1008.21,733.31 L1009.29,734.35 L1010.37,735.39 L1011.44,736.43 L1012.51,737.48 L1013.58,738.53 L1014.65,739.58 L1015.71,740.64 L1016.78,741.70 L1017.84,742.76 L1018.90,743.82 L1019.96,744.89 L1021.02,745.95 L1022.08,747.02 L1023.13,748.09 L1024.19,749.17 L1025.24,750.24 L1026.30,751.31 L1027.35,752.39 L1028.41,753.46 L1029.46,754.54 L1030.51,755.62 L1031.57,756.69 L1032.62,757.77 L1033.68,758.84 L1034.74,759.92 L1035.79,760.99 L1036.85,762.06 L1037.91,763.14 L1038.97,764.21 L1040.03,765.27 L1041.09,766.34 L1042.15,767.41 L1043.22,768.47 L1044.29,769.53 L1045.36,770.59 L1046.43,771.64 L1047.50,772.70 L1048.58,773.74 L1049.66,774.79 L1050.74,775.83 L1051.82,776.87 L1052.91,777.90 L1054.00,778.94 L1055.09,779.96 L1056.19,780.98 L1057.29,782.00 L1058.39,783.01 L1059.50,784.02 L1060.61,785.02 L1061.73,786.01 L1062.85,787.01 L1063.97,787.99 L1065.10,788.97 L1066.23,789.94 L1067.37,790.90 L1068.51,791.86 L1069.66,792.82 L1070.81,793.76 L1071.97,794.70 L1073.13,795.63 L1074.30,796.55 L1075.47,797.47 L1076.65,798.37 L1077.84,799.27 L1079.03,800.16 L1080.23,801.04 L1081.43,801.91 L1082.64,802.78 L1083.86,803.63 L1085.08,804.48 L1086.31,805.31 L1087.55,806.14 L1088.80,806.95 L1090.05,807.76 L1091.31,808.55 L1092.58,809.34 L1093.85,810.11 L1095.13,810.87 L1096.42,811.62 L1097.72,812.36 L1099.03,813.09 L1100.34,813.81 L1101.67,814.51 L1103.00,815.21 L1104.34,815.89 L1105.69,816.55 L1107.05,817.21 L1108.41,817.85 L1109.78,818.48 L1111.16,819.09 L1112.55,819.69 L1113.95,820.28 L1115.35,820.85 L1116.75,821.41 L1118.17,821.95 L1119.59,822.48 L1121.01,822.99 L1122.44,823.49 L1123.88,823.97 L1125.32,824.43 L1126.77,824.88 L1128.22,825.31 L1129.67,825.73 L1131.13,826.12 L1132.60,826.50 L1134.06,826.87 L1135.53,827.21 L1137.01,827.54 L1138.48,827.85 L1139.96,828.14 L1141.44,828.41 L1142.93,828.66 L1144.41,828.89 L1145.90,829.10 L1147.39,829.29 L1148.88,829.47 L1150.37,829.62 L1151.86,829.75 L1153.35,829.86 L1154.85,829.95 L1156.34,830.02 L1157.83,830.07 L1159.33,830.11 L1160.82,830.13 L1162.32,830.13 L1163.81,830.12 L1165.31,830.09 L1166.80,830.06 L1168.30,830.01 L1169.80,829.95 L1171.29,829.88 L1172.79,829.81 L1174.29,829.72 L1175.79,829.63 L1177.28,829.54 L1178.78,829.44 L1180.28,829.34 L1181.78,829.24 L1183.28,829.13 L1184.78,829.03 L1186.28,828.92 L1187.78,828.82 L1189.27,828.72 L1190.77,828.63 L1192.27,828.54 L1193.77,828.45 L1195.27,828.37 L1196.77,828.29 L1198.27,828.22 L1199.77,828.15 L1201.27,828.09 L1202.77,828.03 L1204.27,827.98 L1205.77,827.93 L1207.27,827.88 L1208.77,827.84 L1210.27,827.81 L1211.77,827.77 L1213.27,827.75 L1214.76,827.72 L1216.26,827.70 L1217.76,827.69 L1219.26,827.68 L1220.76,827.68 L1222.26,827.68 L1223.76,827.68 L1225.26,827.69 L1226.75,827.70 L1228.25,827.72 L1229.75,827.74 L1231.25,827.77 L1232.75,827.80 L1234.24,827.83 L1235.74,827.87 L1237.24,827.91 L1238.73,827.96 L1240.23,828.01 L1241.73,828.07 L1243.22,828.13 L1244.72,828.20 L1246.21,828.27 L1247.71,828.34 L1249.20,828.42 L1250.70,828.51 L1252.19,828.59 L1253.69,828.69 L1255.18,828.78 L1256.67,828.88 L1258.16,828.99 L1259.66,829.10 L1261.15,829.21 L1262.64,829.33 L1264.13,829.46 L1265.62,829.58 L1267.11,829.71 L1268.60,829.85 L1270.09,829.99 L1271.58,830.13 L1273.07,830.28 L1274.56,830.44 L1276.05,830.60 L1277.53,830.76 L1279.02,830.92 L1280.51,831.09 L1281.99,831.27 L1283.48,831.45 L1284.96,831.63 L1286.45,831.82 L1287.93,832.01 L1289.41,832.21 L1290.90,832.41 L1292.38,832.62 L1293.86,832.83 L1295.34,833.04 L1296.82,833.26 L1298.30,833.48 L1299.78,833.71 L1301.26,833.94 L1302.74,834.17 L1304.21,834.41 L1305.69,834.66 L1307.16,834.91 L1308.64,835.16 L1310.11,835.41 L1311.59,835.68 L1313.06,835.94 L1314.53,836.21 L1316.00,836.48 L1317.47,836.76 L1318.94,837.05 L1320.41,837.33 L1321.88,837.62 L1323.35,837.92 L1324.82,838.22 L1326.28,838.52 L1327.75,838.83 L1329.21,839.14 L1330.68,839.46 L1332.14,839.78 L1333.60,840.10 L1335.06,840.43 L1336.52,840.76 L1337.98,841.09 L1339.44,841.43 L1340.90,841.77 L1342.36,842.12 L1343.82,842.47 L1345.27,842.82 L1346.73,843.18 L1348.19,843.53 L1349.64,843.89 L1351.10,844.26 L1352.55,844.62 L1354.00,844.99 L1355.46,845.36 L1356.91,845.74 L1358.36,846.11 L1359.81,846.49 L1361.27,846.87 L1362.72,847.26 L1364.17,847.64 L1365.62,848.03 L1367.07,848.42 L1368.52,848.81 L1369.97,849.20 L1371.41,849.60 L1372.86,849.99 L1374.31,850.39 L1375.76,850.79 L1377.21,851.19 L1378.66,851.59 L1380.10,851.99 L1381.55,852.39 L1383.00,852.80 L1384.44,853.20 L1385.89,853.61 L1387.34,854.01 L1388.78,854.42 L1390.23,854.83 L1391.68,855.23 L1393.12,855.64 L1394.57,856.05 L1396.02,856.46 L1397.46,856.87 L1398.91,857.28 L1400.36,857.68 L1401.80,858.09 L1403.25,858.50 L1404.70,858.91 L1406.14,859.31 L1407.59,859.72 L1409.04,860.13 L1410.48,860.53 L1411.93,860.93 L1413.38,861.34 L1414.83,861.74 L1416.27,862.14 L1417.72,862.54 L1419.17,862.94 L1420.62,863.34 L1422.07,863.73 L1423.52,864.13 L1424.97,864.52 L1426.42,864.91 L1427.87,865.30 L1429.32,865.69 L1430.77,866.07 L1432.22,866.46 L1433.67,866.84 L1435.13,867.22 L1436.58,867.60 L1438.03,867.97 L1439.48,868.34 L1440.94,868.71 L1442.39,869.08 L1443.85,869.44 L1445.30,869.80 L1446.76,870.16 L1448.22,870.52 L1449.68,870.87 L1451.13,871.22 L1452.59,871.57 L1454.05,871.91 L1455.51,872.25 L1456.97,872.58 L1458.43,872.92 L1459.90,873.24 L1461.36,873.57 L1462.82,873.89 L1464.29,874.21 L1465.75,874.52 L1467.22,874.83 L1468.69,875.13 L1470.15,875.43 L1471.62,875.73 L1473.09,876.02 L1474.56,876.31 L1476.03,876.59 L1477.51,876.87 L1478.98,877.14 L1480.45,877.41 L1481.93,877.67 L1483.40,877.93 L1484.88,878.18 L1486.36,878.43 L1487.84,878.67 L1489.32,878.91 L1490.80,879.14 L1492.28,879.36 L1493.77,879.58 L1495.25,879.80 L1496.74,880.01 L1498.22,880.21 L1499.71,880.41 L1501.20,880.60" stroke="#ff0000"/>
<path d="M260.60,735.21 L261.88,734.13 L263.23,733.39 L264.63,732.94 L266.08,732.75 L267.55,732.79 L269.03,733.00 L270.51,733.35 L271.98,733.75 L273.45,734.15 L274.90,734.47 L276.33,734.66 L277.74,734.65 L279.11,734.40 L280.45,733.95 L281.76,733.33 L283.03,732.56 L284.26,731.68 L285.44,730.72 L286.58,729.71 L287.68,728.65 L288.73,727.55 L289.75,726.42 L290.73,725.27 L291.68,724.08 L292.60,722.88 L293.49,721.66 L294.36,720.43 L295.21,719.19 L296.03,717.94 L296.83,716.68 L297.61,715.41 L298.37,714.13 L299.11,712.84 L299.83,711.54 L300.53,710.23 L301.21,708.91 L301.88,707.58 L302.52,706.24 L303.14,704.90 L303.75,703.55 L304.34,702.19 L304.92,700.82 L305.48,699.45 L306.02,698.07 L306.55,696.68 L307.07,695.28 L307.57,693.88 L308.05,692.48 L308.52,691.06 L308.99,689.64 L309.43,688.22 L309.87,686.79 L310.29,685.36 L310.71,683.92 L311.11,682.48 L311.50,681.03 L311.89,679.58 L312.26,678.12 L312.62,676.66 L312.98,675.20 L313.33,673.73 L313.67,672.27 L314.01,670.80 L314.34,669.32 L314.66,667.85 L314.97,666.37 L315.29,664.89 L315.59,663.41 L315.90,661.93 L316.19,660.45 L316.49,658.97 L316.78,657.48 L317.07,656.00 L317.36,654.51 L317.65,653.03 L317.94,651.55 L318.22,650.07 L318.50,648.58 L318.79,647.10 L319.07,645.62 L319.35,644.14 L319.63,642.66 L319.91,641.18 L320.19,639.70 L320.47,638.22 L320.75,636.74 L321.03,635.26 L321.31,633.79 L321.58,632.31 L321.86,630.83 L322.13,629.36 L322.40,627.88 L322.68,626.41 L322.95,624.93 L323.22,623.46 L323.49,621.98 L323.76,620.51 L324.03,619.03 L324.30,617.56 L324.57,616.09 L324.84,614.61 L325.11,613.14 L325.37,611.67 L325.64,610.19 L325.91,608.72 L326.17,607.25 L326.44,605.78 L326.70,604.31 L326.96,602.84 L327.23,601.36 L327.49,599.89 L327.75,598.42 L328.01,596.95 L328.27,595.48 L328.54,594.01 L328.80,592.54 L329.06,591.07 L329.31,589.60 L329.57,588.13 L329.83,586.66 L330.09,585.19 L330.35,583.72 L330.60,582.25 L330.86,580.78 L331.12,579.31 L331.37,577.84 L331.63,576.37 L331.88,574.90 L332.14,573.43 L332.39,571.96 L332.65,570.49 L332.90,569.02 L333.15,567.55 L333.41,566.08 L333.66,564.61 L333.91,563.14 L334.16,561.67 L334.42,560.20 L334.67,558.73 L334.92,557.26 L335.17,555.79 L335.42,554.32 L335.67,552.85 L335.92,551.37 L336.17,549.90 L336.42,548.43 L336.67,546.96 L336.92,545.49 L337.17,544.01 L337.42,542.54 L337.67,541.07 L337.92,539.59 L338.17,538.12 L338.42,536.65 L338.67,535.17 L338.92,533.70 L339.17,532.22 L339.41,530.75 L339.66,529.27 L339.91,527.80 L340.16,526.32 L340.41,524.84 L340.66,523.37 L340.90,521.89 L341.15,520.41 L341.40,518.93 L341.65,517.45 L341.90,515.97 L342.14,514.49 L342.39,513.01 L342.64,511.53 L342.89,510.05 L343.14,508.57 L343.38,507.09 L343.63,505.61 L343.88,504.12 L344.13,502.64 L344.38,501.15 L344.63,499.67 L344.88,498.18 L345.12,496.70 L345.37,495.21 L345.62,493.72 L345.87,492.24 L346.12,490.75 L346.37,489.26 L346.62,487.77 L346.87,486.28 L347.12,484.79 L347.37,483.30 L347.62,481.80 L347.87,480.31 L348.12,478.82 L348.37,477.32 L348.63,475.83 L348.88,474.33 L349.13,472.84 L349.39,471.34 L349.64,469.85 L349.90,468.35 L350.16,466.85 L350.42,465.36 L350.68,463.86 L350.95,462.37 L351.22,460.88 L351.49,459.38 L351.76,457.89 L352.04,456.40 L352.32,454.91 L352.61,453.42 L352.89,451.93 L353.19,450.45 L353.48,448.96 L353.78,447.48 L354.09,446.00 L354.39,444.52 L354.71,443.05 L355.03,441.57 L355.35,440.10 L355.68,438.63 L356.02,437.16 L356.36,435.70 L356.71,434.24 L357.06,432.78 L357.42,431.32 L357.79,429.87 L358.16,428.42 L358.54,426.97 L358.93,425.53 L359.33,424.09 L359.73,422.65 L360.14,421.22 L360.56,419.79 L360.99,418.37 L361.43,416.95 L361.87,415.54 L362.32,414.13 L362.79,412.72 L363.26,411.32 L363.74,409.92 L364.23,408.53 L364.73,407.14 L365.24,405.76 L365.76,404.38 L366.29,403.01 L366.84,401.64 L367.39,400.28 L367.95,398.93 L368.53,397.58 L369.11,396.24 L369.71,394.90 L370.32,393.57 L370.94,392.24 L371.58,390.93 L372.22,389.61 L372.88,388.31 L373.55,387.01 L374.24,385.72 L374.93,384.43 L375.64,383.16 L376.37,381.89 L377.11,380.62 L377.86,379.37 L378.63,378.12 L379.41,376.88 L380.21,375.65 L381.03,374.43 L381.87,373.22 L382.72,372.03 L383.60,370.84 L384.50,369.67 L385.43,368.51 L386.38,367.36 L387.35,366.23 L388.35,365.11 L389.38,364.01 L390.44,362.93 L391.53,361.86 L392.65,360.81 L393.80,359.78 L394.98,358.77 L396.19,357.78 L397.44,356.82 L398.71,355.88 L400.01,354.96 L401.33,354.08 L402.67,353.22 L404.04,352.40 L405.42,351.61 L406.82,350.86 L408.24,350.15 L409.67,349.48 L411.11,348.85 L412.57,348.27 L414.03,347.74 L415.49,347.25 L416.97,346.81 L418.44,346.43 L419.92,346.10 L421.40,345.82 L422.87,345.61 L424.34,345.44 L425.81,345.34 L427.27,345.29 L428.73,345.29 L430.18,345.35 L431.62,345.46 L433.06,345.62 L434.48,345.83 L435.89,346.10 L437.30,346.41 L438.68,346.77 L440.06,347.18 L441.41,347.64 L442.76,348.15 L444.08,348.71 L445.39,349.31 L446.67,349.96 L447.94,350.65 L449.19,351.38 L450.41,352.16 L451.61,352.99 L452.78,353.85 L453.94,354.76 L455.06,355.70 L456.17,356.68 L457.26,357.70 L458.32,358.74 L459.37,359.82 L460.39,360.93 L461.40,362.07 L462.39,363.23 L463.36,364.41 L464.32,365.62 L465.26,366.84 L466.19,368.08 L467.10,369.34 L468.00,370.61 L468.89,371.90 L469.77,373.19 L470.63,374.50 L471.49,375.81 L472.34,377.12 L473.18,378.44 L474.01,379.76 L474.83,381.07 L475.65,382.39 L476.46,383.69 L477.27,385.00 L478.07,386.30 L478.87,387.59 L479.66,388.88 L480.45,390.16 L481.24,391.44 L482.01,392.72 L482.79,394.00 L483.56,395.27 L484.32,396.54 L485.08,397.81 L485.84,399.08 L486.59,400.35 L487.34,401.61 L488.08,402.88 L488.82,404.15 L489.55,405.42 L490.28,406.68 L491.01,407.96 L491.73,409.23 L492.45,410.50 L493.17,411.78 L493.88,413.06 L494.58,414.35 L495.29,415.63 L495.99,416.93 L496.68,418.22 L497.38,419.53 L498.07,420.83 L498.75,422.15 L499.43,423.47 L500.11,424.79 L500.79,426.13 L501.46,427.47 L502.13,428.81 L502.80,430.17 L503.47,431.52 L504.14,432.88 L504.81,434.25 L505.49,435.61 L506.18,436.97 L506.87,438.33 L507.57,439.68 L508.28,441.03 L509.00,442.38 L509.74,443.71 L510.49,445.04 L511.25,446.36 L512.03,447.66 L512.83,448.95 L513.65,450.23 L514.49,451.50 L515.36,452.74 L516.24,453.97 L517.16,455.18 L518.10,456.37 L519.06,457.53 L520.06,458.67 L521.09,459.79 L522.15,460.88 L523.24,461.95 L524.37,462.98 L525.54,463.99 L526.74,464.96 L527.98,465.90 L529.25,466.79 L530.55,467.62 L531.88,468.36 L533.21,469.01 L534.56,469.56 L535.91,469.97 L537.26,470.25 L538.60,470.38 L539.94,470.37 L541.27,470.23 L542.59,469.96 L543.90,469.59 L545.20,469.10 L546.50,468.51 L547.77,467.83 L549.04,467.06 L550.29,466.22 L551.53,465.31 L552.75,464.33 L553.95,463.30 L555.14,462.23 L556.31,461.11 L557.46,459.97 L558.59,458.79 L559.70,457.61 L560.78,456.41 L561.85,455.21 L562.89,454.02 L563.91,452.82 L564.91,451.63 L565.89,450.44 L566.85,449.24 L567.80,448.05 L568.73,446.86 L569.64,445.67 L570.55,444.47 L571.44,443.28 L572.32,442.09 L573.19,440.90 L574.05,439.71 L574.90,438.52 L575.75,437.32 L576.59,436.13 L577.42,434.93 L578.26,433.74 L579.09,432.54 L579.92,431.35 L580.75,430.15 L581.58,428.95 L582.42,427.75 L583.26,426.54 L584.10,425.34 L584.94,424.13 L585.79,422.93 L586.64,421.72 L587.50,420.51 L588.36,419.30 L589.22,418.09 L590.08,416.88 L590.95,415.66 L591.83,414.45 L592.71,413.23 L593.59,412.02 L594.47,410.80 L595.36,409.59 L596.25,408.37 L597.15,407.15 L598.05,405.94 L598.96,404.72 L599.87,403.50 L600.78,402.28 L601.70,401.06 L602.62,399.85 L603.55,398.63 L604.48,397.41 L605.41,396.20 L606.35,394.98 L607.30,393.76 L608.24,392.55 L609.20,391.34 L610.16,390.13 L611.13,388.93 L612.12,387.75 L613.11,386.59 L614.12,385.44 L615.15,384.32 L616.20,383.22 L617.27,382.16 L618.36,381.13 L619.48,380.14 L620.62,379.19 L621.79,378.28 L622.98,377.41 L624.20,376.59 L625.45,375.81 L626.72,375.07 L628.01,374.37 L629.32,373.71 L630.65,373.09 L632.00,372.51 L633.37,371.96 L634.75,371.46 L636.15,370.99 L637.57,370.56 L639.00,370.17 L640.44,369.81 L641.90,369.49 L643.36,369.21 L644.84,368.96 L646.32,368.74 L647.81,368.56 L649.31,368.41 L650.82,368.30 L652.33,368.21 L653.84,368.16 L655.35,368.14 L656.87,368.15 L658.39,368.20 L659.90,368.27 L661.42,368.37 L662.93,368.50 L664.44,368.66 L665.94,368.85 L667.44,369.06 L668.93,369.30 L670.42,369.57 L671.89,369.87 L673.36,370.19 L674.82,370.53 L676.27,370.90 L677.71,371.30 L679.14,371.72 L680.57,372.16 L681.98,372.63 L683.38,373.12 L684.78,373.64 L686.17,374.18 L687.54,374.73 L688.91,375.32 L690.27,375.92 L691.62,376.54 L692.96,377.19 L694.29,377.85 L695.61,378.53 L696.92,379.24 L698.22,379.96 L699.51,380.71 L700.79,381.47 L702.06,382.25 L703.31,383.05 L704.56,383.86 L705.80,384.69 L707.03,385.54 L708.25,386.41 L709.45,387.29 L710.65,388.19 L711.83,389.10 L713.01,390.03 L714.17,390.97 L715.32,391.93 L716.46,392.90 L717.59,393.88 L718.71,394.88 L719.81,395.89 L720.91,396.91 L721.99,397.95 L723.06,398.99 L724.12,400.05 L725.17,401.12 L726.22,402.20 L727.25,403.29 L728.27,404.39 L729.28,405.51 L730.28,406.63 L731.27,407.76 L732.26,408.90 L733.24,410.04 L734.20,411.20 L735.17,412.36 L736.12,413.54 L737.06,414.72 L738.00,415.90 L738.94,417.09 L739.86,418.29 L740.78,419.50 L741.70,420.71 L742.61,421.93 L743.51,423.15 L744.41,424.38 L745.30,425.61 L746.19,426.85 L747.08,428.09 L747.96,429.33 L748.84,430.58 L749.71,431.83 L750.59,433.08 L751.46,434.33 L752.32,435.59 L753.19,436.85 L754.05,438.11 L754.91,439.37 L755.77,440.63 L756.63,441.89 L757.49,443.15 L758.34,444.41 L759.20,445.68 L760.06,446.94 L760.92,448.20 L761.78,449.45 L762.64,450.71 L763.50,451.96 L764.36,453.21 L765.22,454.46 L766.09,455.71 L766.96,456.95 L767.83,458.19 L768.70,459.42 L769.58,460.65 L770.46,461.88 L771.34,463.10 L772.23,464.32 L773.12,465.53 L774.02,466.73 L774.92,467.93 L775.83,469.12 L776.74,470.30 L777.66,471.48 L778.58,472.65 L779.51,473.81 L780.45,474.97 L781.39,476.11 L782.34,477.25 L783.30,478.37 L784.26,479.49 L785.24,480.60 L786.22,481.70 L787.21,482.79 L788.21,483.86 L789.21,484.93 L790.23,485.98 L791.26,487.03 L792.29,488.06 L793.34,489.08 L794.40,490.08 L795.46,491.08 L796.54,492.06 L797.63,493.02 L798.73,493.98 L799.85,494.92 L800.97,495.84 L802.11,496.75 L803.26,497.65 L804.42,498.52 L805.60,499.39 L806.79,500.23 L807.99,501.07 L809.21,501.88 L810.44,502.68 L811.69,503.46 L812.94,504.23 L814.21,504.98 L815.49,505.72 L816.78,506.45 L818.09,507.16 L819.40,507.86 L820.72,508.55 L822.05,509.22 L823.39,509.89 L824.74,510.55 L826.10,511.19 L827.46,511.83 L828.84,512.45 L830.21,513.07 L831.60,513.68 L832.99,514.29 L834.38,514.88 L835.78,515.48 L837.18,516.06 L838.59,516.64 L840.00,517.21 L841.42,517.78 L842.83,518.35 L844.25,518.91 L845.67,519.47 L847.09,520.03 L848.51,520.59 L849.93,521.14 L851.35,521.70 L852.77,522.25 L854.19,522.81 L855.60,523.36 L857.02,523.92 L858.43,524.48 L859.84,525.04 L861.24,525.60 L862.65,526.17 L864.04,526.74 L865.44,527.31 L866.83,527.89 L868.22,528.47 L869.61,529.05 L870.99,529.64 L872.37,530.23 L873.74,530.82 L875.11,531.42 L876.48,532.03 L877.84,532.64 L879.20,533.26 L880.56,533.88 L881.91,534.51 L883.26,535.14 L884.60,535.79 L885.94,536.43 L887.27,537.09 L888.60,537.75 L889.93,538.42 L891.25,539.10 L892.56,539.78 L893.87,540.48 L895.18,541.18 L896.48,541.89 L897.78,542.61 L899.07,543.33 L900.36,544.07 L901.64,544.81 L902.92,545.56 L904.19,546.32 L905.46,547.09 L906.72,547.87 L907.98,548.65 L909.24,549.44 L910.49,550.24 L911.73,551.04 L912.97,551.85 L914.21,552.67 L915.44,553.50 L916.67,554.34 L917.90,555.18 L919.12,556.03 L920.33,556.88 L921.54,557.74 L922.75,558.61 L923.95,559.49 L925.15,560.37 L926.35,561.26 L927.54,562.15 L928.73,563.05 L929.91,563.96 L931.09,564.87 L932.27,565.79 L933.44,566.72 L934.60,567.65 L935.77,568.59 L936.93,569.53 L938.09,570.48 L939.24,571.43 L940.39,572.39 L941.53,573.35 L942.68,574.32 L943.82,575.29 L944.95,576.27 L946.08,577.26 L947.21,578.25 L948.34,579.24 L949.46,580.24 L950.58,581.24 L951.69,582.25 L952.80,583.26 L953.91,584.28 L955.02,585.30 L956.12,586.32 L957.22,587.35 L958.31,588.39 L959.41,589.42 L960.50,590.46 L961.58,591.51 L962.67,592.56 L963.75,593.61 L964.83,594.66 L965.90,595.72 L966.98,596.78 L968.05,597.85 L969.11,598.92 L970.18,599.99 L971.24,601.06 L972.30,602.14 L973.35,603.22 L974.41,604.30 L975.46,605.38 L976.51,606.47 L977.56,607.56 L978.60,608.65 L979.64,609.75 L980.68,610.84 L981.72,611.94 L982.75,613.04 L983.78,614.15 L984.81,615.25 L985.84,616.36 L986.87,617.46 L987.89,618.57 L988.91,619.68 L989.94,620.80 L990.95,621.91 L991.97,623.03 L992.99,624.14 L994.00,625.26 L995.01,626.38 L996.02,627.50 L997.03,628.62 L998.04,629.74 L999.05,630.86 L1000.06,631.98 L1001.06,633.11 L1002.07,634.23 L1003.07,635.35 L1004.08,636.48 L1005.08,637.60 L1006.08,638.73 L1007.08,639.85 L1008.08,640.98 L1009.09,642.11 L1010.09,643.23 L1011.09,644.36 L1012.09,645.48 L1013.09,646.61 L1014.09,647.73 L1015.09,648.85 L1016.09,649.98 L1017.09,651.10 L1018.09,652.22 L1019.09,653.34 L1020.09,654.46 L1021.10,655.58 L1022.10,656.70 L1023.10,657.82 L1024.11,658.94 L1025.11,660.05 L1026.12,661.17 L1027.13,662.28 L1028.14,663.39 L1029.15,664.50 L1030.16,665.61 L1031.17,666.71 L1032.19,667.82 L1033.20,668.92 L1034.22,670.02 L1035.24,671.12 L1036.26,672.22 L1037.28,673.31 L1038.30,674.41 L1039.33,675.50 L1040.36,676.58 L1041.39,677.67 L1042.42,678.75 L1043.45,679.83 L1044.49,680.91 L1045.53,681.99 L1046.57,683.06 L1047.62,684.13 L1048.66,685.19 L1049.71,686.26 L1050.76,687.32 L1051.82,688.37 L1052.88,689.43 L1053.94,690.48 L1055.00,691.53 L1056.07,692.57 L1057.14,693.61 L1058.21,694.65 L1059.29,695.68 L1060.37,696.71 L1061.46,697.73 L1062.54,698.75 L1063.64,699.77 L1064.73,700.78 L1065.83,701.79 L1066.93,702.80 L1068.04,703.80 L1069.15,704.79 L1070.27,705.78 L1071.39,706.77 L1072.51,707.75 L1073.64,708.73 L1074.77,709.70 L1075.91,710.67 L1077.05,711.63 L1078.20,712.59 L1079.35,713.54 L1080.51,714.49 L1081.67,715.43 L1082.83,716.37 L1084.00,717.30 L1085.18,718.23 L1086.36,719.15 L1087.55,720.07 L1088.74,720.98 L1089.93,721.88 L1091.13,722.78 L1092.34,723.67 L1093.55,724.56 L1094.76,725.44 L1095.98,726.31 L1097.20,727.18 L1098.43,728.04 L1099.66,728.90 L1100.90,729.75 L1102.14,730.59 L1103.39,731.43 L1104.64,732.26 L1105.89,733.09 L1107.15,733.90 L1108.42,734.72 L1109.68,735.52 L1110.96,736.32 L1112.23,737.11 L1113.51,737.89 L1114.80,738.67 L1116.08,739.44 L1117.38,740.21 L1118.67,740.96 L1119.97,741.71 L1121.28,742.45 L1122.58,743.19 L1123.90,743.92 L1125.21,744.64 L1126.53,745.35 L1127.85,746.05 L1129.18,746.75 L1130.51,747.44 L1131.84,748.12 L1133.18,748.80 L1134.52,749.47 L1135.87,750.12 L1137.21,750.78 L1138.57,751.42 L1139.92,752.05 L1141.28,752.68 L1142.64,753.30 L1144.00,753.91 L1145.37,754.51 L1146.74,755.11 L1148.12,755.69 L1149.49,756.27 L1150.87,756.84 L1152.26,757.40 L1153.64,757.95 L1155.03,758.49 L1156.43,759.02 L1157.82,759.55 L1159.22,760.06 L1160.62,760.57 L1162.02,761.07 L1163.43,761.56 L1164.84,762.04 L1166.25,762.51 L1167.66,762.97 L1169.08,763.42 L1170.50,763.86 L1171.92,764.30 L1173.35,764.72 L1174.78,765.13 L1176.20,765.54 L1177.64,765.94 L1179.07,766.33 L1180.51,766.70 L1181.95,767.08 L1183.39,767.44 L1184.83,767.79 L1186.28,768.14 L1187.72,768.48 L1189.17,768.81 L1190.62,769.13 L1192.08,769.45 L1193.53,769.76 L1194.99,770.06 L1196.45,770.35 L1197.91,770.64 L1199.38,770.92 L1200.84,771.20 L1202.31,771.46 L1203.78,771.73 L1205.25,771.98 L1206.72,772.23 L1208.19,772.47 L1209.67,772.71 L1211.15,772.94 L1212.62,773.17 L1214.10,773.39 L1215.58,773.60 L1217.07,773.81 L1218.55,774.01 L1220.04,774.21 L1221.52,774.41 L1223.01,774.60 L1224.50,774.79 L1225.99,774.97 L1227.48,775.14 L1228.98,775.32 L1230.47,775.49 L1231.97,775.65 L1233.46,775.81 L1234.96,775.97 L1236.46,776.13 L1237.95,776.28 L1239.45,776.43 L1240.95,776.57 L1242.46,776.72 L1243.96,776.86 L1245.46,776.99 L1246.96,777.13 L1248.47,777.26 L1249.97,777.39 L1251.48,777.52 L1252.99,777.65 L1254.49,777.77 L1256.00,777.89 L1257.51,778.01 L1259.01,778.13 L1260.52,778.25 L1262.03,778.37 L1263.54,778.49 L1265.05,778.60 L1266.56,778.72 L1268.07,778.83 L1269.58,778.95 L1271.09,779.06 L1272.60,779.18 L1274.11,779.29 L1275.62,779.40 L1277.13,779.52 L1278.64,779.63 L1280.15,779.75 L1281.66,779.86 L1283.17,779.98 L1284.68,780.10 L1286.18,780.22 L1287.69,780.34 L1289.20,780.46 L1290.71,780.58 L1292.22,780.71 L1293.73,780.83 L1295.23,780.96 L1296.74,781.09 L1298.25,781.22 L1299.75,781.36 L1301.26,781.49 L1302.76,781.63 L1304.26,781.78 L1305.77,781.92 L1307.27,782.07 L1308.77,782.22 L1310.27,782.38 L1311.77,782.53 L1313.27,782.69 L1314.77,782.86 L1316.26,783.03 L1317.76,783.20 L1319.25,783.38 L1320.75,783.56 L1322.24,783.74 L1323.73,783.93 L1325.22,784.13 L1326.71,784.33 L1328.20,784.53 L1329.69,784.74 L1331.17,784.95 L1332.66,785.17 L1334.14,785.39 L1335.62,785.62 L1337.10,785.85 L1338.58,786.09 L1340.06,786.33 L1341.54,786.57 L1343.02,786.82 L1344.49,787.07 L1345.97,787.33 L1347.44,787.59 L1348.92,787.85 L1350.39,788.12 L1351.86,788.39 L1353.33,788.66 L1354.80,788.94 L1356.27,789.22 L1357.74,789.51 L1359.20,789.79 L1360.67,790.08 L1362.14,790.38 L1363.60,790.67 L1365.07,790.97 L1366.53,791.27 L1367.99,791.58 L1369.46,791.89 L1370.92,792.19 L1372.38,792.51 L1373.84,792.82 L1375.30,793.14 L1376.76,793.46 L1378.22,793.78 L1379.68,794.10 L1381.14,794.43 L1382.59,794.76 L1384.05,795.08 L1385.51,795.42 L1386.97,795.75 L1388.42,796.08 L1389.88,796.42 L1391.33,796.76 L1392.79,797.09 L1394.24,797.43 L1395.70,797.77 L1397.15,798.12 L1398.61,798.46 L1400.06,798.80 L1401.52,799.15 L1402.97,799.49 L1404.42,799.84 L1405.88,800.19 L1407.33,800.54 L1408.79,800.88 L1410.24,801.23 L1411.69,801.58 L1413.15,801.93 L1414.60,802.28 L1416.05,802.63 L1417.51,802.98 L1418.96,803.33 L1420.42,803.68 L1421.87,804.03 L1423.32,804.38 L1424.78,804.73 L1426.23,805.08 L1427.69,805.42 L1429.14,805.77 L1430.60,806.12 L1432.05,806.46 L1433.51,806.81 L1434.97,807.15 L1436.42,807.49 L1437.88,807.84 L1439.34,808.18 L1440.80,808.52 L1442.26,808.85 L1443.71,809.19 L1445.17,809.53 L1446.63,809.86 L1448.09,810.19 L1449.56,810.52 L1451.02,810.85 L1452.48,811.18 L1453.94,811.50 L1455.41,811.82 L1456.87,812.14 L1458.33,812.46 L1459.80,812.78 L1461.27,813.09 L1462.73,813.40 L1464.20,813.71 L1465.67,814.02 L1467.14,814.32 L1468.61,814.63 L1470.08,814.92 L1471.55,815.22 L1473.02,815.51 L1474.50,815.80 L1475.97,816.09 L1477.45,816.37 L1478.92,816.65 L1480.40,816.93 L1481.88,817.20 L1483.36,817.47 L1484.84,817.73 L1486.32,818.00 L1487.80,818.25 L1489.29,818.51 L1490.77,818.76 L1492.26,819.01 L1493.75,819.25 L1495.23,819.49 L1496.72,819.72 L1498.22,819.95 L1499.71,820.18 L1501.20,820.40" stroke="#00ff00"/>
<path d="M260.60,565.30 L262.13,564.50 L263.64,564.23 L265.09,564.41 L266.49,564.96 L267.82,565.78 L269.06,566.75 L270.25,567.68 L271.44,568.31 L272.64,568.51 L273.85,568.36 L275.07,568.01 L276.30,567.49 L277.53,566.83 L278.75,566.04 L279.96,565.15 L281.16,564.17 L282.33,563.14 L283.49,562.06 L284.61,560.96 L285.71,559.84 L286.77,558.71 L287.81,557.57 L288.82,556.42 L289.80,555.25 L290.76,554.07 L291.69,552.87 L292.59,551.67 L293.47,550.45 L294.33,549.22 L295.16,547.98 L295.97,546.73 L296.75,545.46 L297.52,544.19 L298.26,542.91 L298.99,541.62 L299.69,540.32 L300.37,539.01 L301.04,537.69 L301.69,536.36 L302.32,535.02 L302.93,533.68 L303.53,532.33 L304.11,530.97 L304.67,529.61 L305.23,528.24 L305.76,526.86 L306.29,525.48 L306.80,524.09 L307.30,522.69 L307.79,521.29 L308.27,519.89 L308.74,518.48 L309.19,517.07 L309.64,515.65 L310.09,514.23 L310.52,512.81 L310.95,511.39 L311.37,509.96 L311.78,508.53 L312.19,507.10 L312.59,505.67 L312.99,504.23 L313.39,502.80 L313.78,501.36 L314.17,499.92 L314.56,498.48 L314.94,497.04 L315.32,495.60 L315.70,494.16 L316.07,492.72 L316.44,491.28 L316.80,489.83 L317.17,488.39 L317.52,486.94 L317.88,485.50 L318.23,484.05 L318.58,482.60 L318.93,481.15 L319.28,479.70 L319.62,478.25 L319.96,476.80 L320.29,475.35 L320.63,473.90 L320.96,472.44 L321.28,470.99 L321.61,469.53 L321.93,468.08 L322.25,466.62 L322.57,465.16 L322.88,463.70 L323.20,462.24 L323.51,460.78 L323.81,459.32 L324.12,457.86 L324.42,456.40 L324.72,454.94 L325.02,453.47 L325.32,452.01 L325.62,450.55 L325.91,449.08 L326.20,447.62 L326.49,446.15 L326.77,444.68 L327.06,443.21 L327.34,441.75 L327.62,440.28 L327.90,438.81 L328.18,437.34 L328.46,435.87 L328.73,434.40 L329.01,432.93 L329.28,431.46 L329.55,429.98 L329.82,428.51 L330.09,427.04 L330.35,425.57 L330.62,424.09 L330.88,422.62 L331.15,421.14 L331.41,419.67 L331.67,418.19 L331.93,416.72 L332.19,415.24 L332.44,413.76 L332.70,412.29 L332.95,410.81 L333.21,409.33 L333.46,407.85 L333.72,406.38 L333.97,404.90 L334.22,403.42 L334.47,401.94 L334.72,400.46 L334.97,398.98 L335.22,397.50 L335.47,396.02 L335.72,394.54 L335.97,393.06 L336.22,391.58 L336.46,390.10 L336.71,388.62 L336.96,387.14 L337.21,385.66 L337.45,384.17 L337.70,382.69 L337.95,381.21 L338.19,379.73 L338.44,378.25 L338.69,376.77 L338.93,375.28 L339.18,373.80 L339.43,372.32 L339.68,370.84 L339.93,369.35 L340.18,367.87 L340.42,366.39 L340.67,364.91 L340.92,363.42 L341.17,361.94 L341.43,360.46 L341.68,358.98 L341.93,357.49 L342.18,356.01 L342.44,354.53 L342.69,353.05 L342.95,351.57 L343.20,350.08 L343.46,348.60 L343.72,347.12 L343.98,345.64 L344.24,344.16 L344.50,342.68 L344.76,341.20 L345.03,339.71 L345.29,338.23 L345.56,336.75 L345.83,335.27 L346.10,333.79 L346.37,332.31 L346.64,330.83 L346.91,329.35 L347.19,327.88 L347.47,326.40 L347.74,324.92 L348.02,323.44 L348.31,321.96 L348.59,320.48 L348.88,319.01 L349.16,317.53 L349.45,316.05 L349.74,314.58 L350.04,313.10 L350.33,311.63 L350.63,310.15 L350.93,308.68 L351.23,307.20 L351.53,305.73 L351.84,304.25 L352.15,302.78 L352.46,301.31 L352.77,299.84 L353.09,298.36 L353.40,296.89 L353.72,295.42 L354.05,293.95 L354.37,292.48 L354.70,291.01 L355.03,289.54 L355.36,288.08 L355.70,286.61 L356.04,285.14 L356.38,283.67 L356.73,282.21 L357.07,280.74 L357.42,279.28 L357.78,277.82 L358.13,276.35 L358.49,274.89 L358.86,273.43 L359.22,271.97 L359.59,270.51 L359.97,269.05 L360.35,267.59 L360.74,266.14 L361.13,264.69 L361.52,263.24 L361.93,261.79 L362.34,260.35 L362.76,258.91 L363.19,257.48 L363.63,256.05 L364.07,254.62 L364.53,253.20 L365.00,251.79 L365.47,250.38 L365.96,248.98 L366.46,247.58 L366.97,246.19 L367.50,244.81 L368.03,243.43 L368.58,242.07 L369.15,240.71 L369.73,239.36 L370.32,238.01 L370.93,236.68 L371.56,235.36 L372.20,234.04 L372.86,232.74 L373.53,231.44 L374.23,230.16 L374.94,228.89 L375.67,227.63 L376.42,226.38 L377.19,225.14 L377.98,223.91 L378.79,222.70 L379.62,221.50 L380.47,220.31 L381.35,219.14 L382.24,217.98 L383.17,216.84 L384.11,215.70 L385.08,214.59 L386.07,213.49 L387.09,212.40 L388.13,211.33 L389.20,210.28 L390.29,209.24 L391.41,208.22 L392.56,207.22 L393.74,206.23 L394.94,205.26 L396.17,204.31 L397.43,203.39 L398.71,202.48 L400.01,201.60 L401.33,200.74 L402.67,199.92 L404.03,199.12 L405.41,198.35 L406.80,197.61 L408.21,196.91 L409.63,196.24 L411.06,195.60 L412.50,195.01 L413.96,194.45 L415.41,193.93 L416.88,193.46 L418.35,193.03 L419.83,192.64 L421.30,192.30 L422.78,192.01 L424.26,191.77 L425.74,191.58 L427.21,191.45 L428.68,191.36 L430.14,191.34 L431.60,191.37 L433.05,191.46 L434.49,191.60 L435.92,191.80 L437.34,192.06 L438.75,192.36 L440.15,192.72 L441.54,193.12 L442.92,193.57 L444.29,194.07 L445.64,194.61 L446.98,195.20 L448.30,195.82 L449.62,196.48 L450.91,197.18 L452.20,197.92 L453.46,198.69 L454.71,199.49 L455.95,200.32 L457.16,201.18 L458.36,202.07 L459.54,202.98 L460.70,203.92 L461.85,204.88 L462.98,205.87 L464.09,206.88 L465.18,207.90 L466.26,208.95 L467.32,210.02 L468.37,211.10 L469.40,212.21 L470.42,213.33 L471.43,214.46 L472.42,215.61 L473.40,216.77 L474.37,217.95 L475.32,219.13 L476.26,220.33 L477.19,221.54 L478.12,222.75 L479.03,223.98 L479.93,225.21 L480.82,226.45 L481.70,227.69 L482.57,228.94 L483.44,230.20 L484.29,231.45 L485.14,232.71 L485.98,233.96 L486.82,235.22 L487.65,236.48 L488.48,237.75 L489.30,239.01 L490.12,240.27 L490.94,241.53 L491.76,242.79 L492.58,244.04 L493.39,245.30 L494.21,246.55 L495.02,247.80 L495.84,249.05 L496.67,250.30 L497.49,251.54 L498.32,252.77 L499.15,254.01 L499.99,255.24 L500.84,256.46 L501.69,257.68 L502.55,258.89 L503.42,260.09 L504.30,261.29 L505.19,262.48 L506.09,263.67 L507.00,264.84 L507.92,266.01 L508.85,267.17 L509.80,268.32 L510.76,269.47 L511.74,270.60 L512.73,271.72 L513.74,272.83 L514.77,273.94 L515.81,275.03 L516.87,276.11 L517.96,277.17 L519.06,278.23 L520.18,279.27 L521.32,280.30 L522.49,281.32 L523.67,282.32 L524.88,283.29 L526.11,284.23 L527.35,285.12 L528.61,285.96 L529.89,286.75 L531.18,287.46 L532.49,288.10 L533.81,288.65 L535.14,289.11 L536.47,289.47 L537.82,289.71 L539.18,289.84 L540.54,289.84 L541.91,289.72 L543.28,289.47 L544.65,289.12 L546.02,288.66 L547.38,288.11 L548.74,287.48 L550.10,286.76 L551.44,285.98 L552.77,285.13 L554.09,284.23 L555.39,283.29 L556.68,282.31 L557.94,281.30 L559.19,280.26 L560.40,279.22 L561.60,278.17 L562.77,277.10 L563.92,276.03 L565.05,274.95 L566.16,273.87 L567.25,272.77 L568.32,271.67 L569.37,270.57 L570.41,269.45 L571.43,268.34 L572.43,267.21 L573.42,266.08 L574.40,264.95 L575.37,263.81 L576.32,262.67 L577.27,261.53 L578.20,260.38 L579.13,259.23 L580.05,258.08 L580.97,256.92 L581.88,255.76 L582.78,254.61 L583.69,253.45 L584.59,252.29 L585.48,251.13 L586.38,249.97 L587.28,248.81 L588.18,247.65 L589.08,246.49 L589.98,245.34 L590.89,244.19 L591.80,243.03 L592.72,241.89 L593.65,240.74 L594.59,239.60 L595.53,238.46 L596.48,237.33 L597.45,236.20 L598.42,235.08 L599.41,233.96 L600.41,232.84 L601.43,231.74 L602.46,230.64 L603.50,229.55 L604.56,228.47 L605.63,227.40 L606.72,226.34 L607.82,225.30 L608.93,224.27 L610.06,223.25 L611.20,222.25 L612.35,221.27 L613.52,220.31 L614.71,219.37 L615.90,218.45 L617.11,217.55 L618.34,216.68 L619.57,215.83 L620.83,215.00 L622.09,214.20 L623.37,213.43 L624.66,212.69 L625.97,211.98 L627.29,211.30 L628.62,210.65 L629.97,210.03 L631.33,209.45 L632.71,208.91 L634.10,208.40 L635.50,207.93 L636.92,207.50 L638.35,207.10 L639.79,206.75 L641.25,206.44 L642.72,206.18 L644.20,205.95 L645.69,205.76 L647.19,205.61 L648.70,205.50 L650.21,205.43 L651.74,205.39 L653.26,205.38 L654.80,205.41 L656.33,205.48 L657.87,205.58 L659.40,205.70 L660.94,205.86 L662.48,206.05 L664.01,206.27 L665.54,206.52 L667.06,206.79 L668.58,207.09 L670.10,207.42 L671.60,207.77 L673.10,208.15 L674.59,208.54 L676.06,208.96 L677.53,209.40 L678.98,209.87 L680.42,210.35 L681.84,210.85 L683.26,211.37 L684.66,211.91 L686.04,212.47 L687.42,213.04 L688.78,213.64 L690.13,214.25 L691.47,214.88 L692.80,215.53 L694.12,216.20 L695.42,216.88 L696.72,217.58 L698.00,218.30 L699.27,219.03 L700.53,219.77 L701.78,220.54 L703.03,221.32 L704.26,222.11 L705.48,222.92 L706.69,223.74 L707.89,224.58 L709.08,225.43 L710.26,226.29 L711.44,227.17 L712.60,228.06 L713.76,228.97 L714.91,229.88 L716.05,230.81 L717.18,231.75 L718.30,232.71 L719.41,233.67 L720.52,234.65 L721.62,235.63 L722.71,236.63 L723.80,237.64 L724.88,238.66 L725.95,239.69 L727.01,240.72 L728.07,241.77 L729.12,242.83 L730.16,243.89 L731.20,244.96 L732.24,246.05 L733.26,247.14 L734.29,248.23 L735.30,249.34 L736.31,250.45 L737.32,251.57 L738.32,252.69 L739.32,253.83 L740.31,254.96 L741.30,256.11 L742.28,257.26 L743.26,258.41 L744.24,259.57 L745.21,260.74 L746.18,261.91 L747.15,263.08 L748.11,264.26 L749.07,265.44 L750.02,266.62 L750.98,267.81 L751.93,269.00 L752.88,270.19 L753.83,271.39 L754.77,272.58 L755.71,273.78 L756.66,274.98 L757.60,276.18 L758.53,277.39 L759.47,278.59 L760.41,279.79 L761.34,281.00 L762.28,282.20 L763.21,283.41 L764.15,284.61 L765.08,285.81 L766.02,287.01 L766.95,288.21 L767.89,289.41 L768.82,290.60 L769.76,291.79 L770.70,292.98 L771.64,294.17 L772.59,295.35 L773.53,296.52 L774.48,297.69 L775.44,298.86 L776.40,300.02 L777.36,301.17 L778.32,302.32 L779.29,303.46 L780.27,304.59 L781.25,305.71 L782.24,306.83 L783.23,307.93 L784.23,309.03 L785.24,310.12 L786.25,311.19 L787.27,312.26 L788.30,313.31 L789.34,314.35 L790.39,315.38 L791.44,316.40 L792.50,317.41 L793.58,318.40 L794.66,319.38 L795.76,320.34 L796.86,321.29 L797.98,322.23 L799.11,323.15 L800.25,324.05 L801.40,324.94 L802.56,325.81 L803.74,326.66 L804.93,327.49 L806.13,328.31 L807.35,329.11 L808.58,329.89 L809.82,330.65 L811.08,331.39 L812.36,332.11 L813.65,332.81 L814.96,333.48 L816.28,334.14 L817.62,334.78 L818.97,335.40 L820.33,336.00 L821.71,336.58 L823.10,337.15 L824.50,337.70 L825.91,338.24 L827.33,338.77 L828.76,339.29 L830.20,339.79 L831.64,340.29 L833.09,340.78 L834.54,341.27 L836.00,341.75 L837.46,342.22 L838.93,342.70 L840.40,343.17 L841.86,343.64 L843.33,344.11 L844.80,344.58 L846.26,345.05 L847.73,345.53 L849.19,346.02 L850.64,346.51 L852.10,347.00 L853.54,347.51 L854.98,348.02 L856.42,348.55 L857.84,349.08 L859.27,349.62 L860.68,350.17 L862.10,350.72 L863.50,351.29 L864.90,351.86 L866.30,352.44 L867.69,353.04 L869.07,353.63 L870.45,354.24 L871.82,354.85 L873.19,355.48 L874.55,356.11 L875.91,356.75 L877.26,357.39 L878.61,358.05 L879.95,358.71 L881.29,359.38 L882.62,360.05 L883.94,360.74 L885.27,361.43 L886.58,362.13 L887.89,362.83 L889.20,363.55 L890.50,364.27 L891.80,364.99 L893.09,365.73 L894.38,366.47 L895.66,367.22 L896.94,367.98 L898.21,368.74 L899.48,369.51 L900.74,370.28 L902.00,371.07 L903.26,371.86 L904.51,372.65 L905.75,373.45 L906.99,374.26 L908.23,375.08 L909.46,375.90 L910.69,376.73 L911.92,377.56 L913.14,378.40 L914.35,379.25 L915.56,380.10 L916.77,380.96 L917.97,381.82 L919.17,382.69 L920.37,383.56 L921.56,384.45 L922.75,385.33 L923.93,386.22 L925.11,387.12 L926.29,388.03 L927.46,388.93 L928.63,389.85 L929.79,390.77 L930.95,391.69 L932.11,392.62 L933.26,393.56 L934.41,394.50 L935.56,395.44 L936.70,396.39 L937.84,397.35 L938.98,398.31 L940.11,399.27 L941.24,400.24 L942.37,401.21 L943.49,402.19 L944.61,403.18 L945.72,404.16 L946.84,405.15 L947.95,406.15 L949.05,407.15 L950.16,408.15 L951.26,409.16 L952.36,410.18 L953.45,411.19 L954.54,412.21 L955.63,413.24 L956.72,414.27 L957.80,415.30 L958.88,416.34 L959.96,417.38 L961.04,418.42 L962.11,419.47 L963.18,420.52 L964.25,421.57 L965.31,422.63 L966.37,423.69 L967.43,424.75 L968.49,425.82 L969.54,426.89 L970.60,427.96 L971.65,429.04 L972.69,430.12 L973.74,431.20 L974.78,432.29 L975.82,433.37 L976.86,434.47 L977.90,435.56 L978.94,436.65 L979.97,437.75 L981.00,438.85 L982.03,439.96 L983.05,441.06 L984.08,442.17 L985.10,443.28 L986.12,444.40 L987.14,445.51 L988.16,446.63 L989.18,447.75 L990.19,448.87 L991.20,449.99 L992.21,451.11 L993.22,452.24 L994.23,453.37 L995.24,454.50 L996.24,455.63 L997.25,456.76 L998.25,457.90 L999.25,459.03 L1000.25,460.17 L1001.25,461.31 L1002.24,462.45 L1003.24,463.59 L1004.23,464.73 L1005.23,465.88 L1006.22,467.02 L1007.21,468.17 L1008.20,469.31 L1009.19,470.46 L1010.18,471.61 L1011.16,472.75 L1012.15,473.90 L1013.14,475.05 L1014.12,476.20 L1015.11,477.35 L1016.09,478.51 L1017.07,479.66 L1018.05,480.81 L1019.03,481.96 L1020.01,483.11 L1021.00,484.26 L1021.98,485.41 L1022.96,486.57 L1023.94,487.72 L1024.92,488.87 L1025.90,490.02 L1026.88,491.16 L1027.86,492.31 L1028.84,493.46 L1029.82,494.61 L1030.81,495.75 L1031.79,496.89 L1032.78,498.04 L1033.76,499.18 L1034.75,500.32 L1035.74,501.45 L1036.72,502.59 L1037.71,503.72 L1038.71,504.85 L1039.70,505.98 L1040.69,507.11 L1041.69,508.24 L1042.69,509.36 L1043.69,510.48 L1044.69,511.59 L1045.69,512.71 L1046.70,513.82 L1047.70,514.93 L1048.71,516.04 L1049.73,517.14 L1050.74,518.24 L1051.76,519.33 L1052.78,520.42 L1053.80,521.51 L1054.83,522.60 L1055.86,523.68 L1056.89,524.76 L1057.93,525.83 L1058.96,526.90 L1060.00,527.96 L1061.05,529.02 L1062.10,530.08 L1063.15,531.13 L1064.21,532.18 L1065.27,533.22 L1066.33,534.26 L1067.40,535.29 L1068.47,536.31 L1069.54,537.34 L1070.62,538.35 L1071.71,539.36 L1072.80,540.37 L1073.89,541.37 L1074.99,542.36 L1076.09,543.35 L1077.20,544.33 L1078.31,545.31 L1079.43,546.28 L1080.55,547.24 L1081.67,548.20 L1082.81,549.15 L1083.95,550.10 L1085.09,551.03 L1086.24,551.97 L1087.39,552.89 L1088.55,553.81 L1089.72,554.72 L1090.89,555.62 L1092.07,556.51 L1093.25,557.40 L1094.44,558.28 L1095.64,559.16 L1096.84,560.02 L1098.05,560.88 L1099.27,561.73 L1100.49,562.57 L1101.72,563.40 L1102.95,564.23 L1104.20,565.04 L1105.44,565.85 L1106.70,566.65 L1107.96,567.44 L1109.23,568.23 L1110.50,569.01 L1111.78,569.77 L1113.06,570.53 L1114.35,571.29 L1115.65,572.03 L1116.95,572.77 L1118.25,573.49 L1119.57,574.21 L1120.88,574.92 L1122.21,575.63 L1123.53,576.32 L1124.87,577.01 L1126.20,577.69 L1127.55,578.36 L1128.89,579.02 L1130.24,579.68 L1131.60,580.32 L1132.96,580.96 L1134.33,581.59 L1135.69,582.21 L1137.07,582.83 L1138.45,583.43 L1139.83,584.03 L1141.21,584.62 L1142.60,585.20 L1144.00,585.77 L1145.39,586.34 L1146.79,586.89 L1148.20,587.44 L1149.61,587.98 L1151.02,588.51 L1152.43,589.04 L1153.85,589.55 L1155.27,590.06 L1156.69,590.56 L1158.12,591.05 L1159.55,591.53 L1160.98,592.01 L1162.41,592.47 L1163.85,592.93 L1165.29,593.38 L1166.73,593.82 L1168.17,594.25 L1169.62,594.68 L1171.07,595.10 L1172.52,595.50 L1173.97,595.90 L1175.43,596.30 L1176.88,596.68 L1178.34,597.06 L1179.80,597.42 L1181.26,597.78 L1182.72,598.13 L1184.19,598.47 L1185.65,598.81 L1187.12,599.13 L1188.58,599.45 L1190.05,599.76 L1191.52,600.06 L1192.99,600.36 L1194.46,600.64 L1195.93,600.92 L1197.41,601.19 L1198.88,601.46 L1200.36,601.72 L1201.83,601.97 L1203.31,602.21 L1204.78,602.45 L1206.26,602.69 L1207.74,602.91 L1209.22,603.13 L1210.70,603.35 L1212.18,603.56 L1213.66,603.77 L1215.14,603.97 L1216.63,604.17 L1218.11,604.36 L1219.59,604.55 L1221.08,604.73 L1222.56,604.91 L1224.05,605.09 L1225.53,605.26 L1227.02,605.43 L1228.51,605.60 L1229.99,605.76 L1231.48,605.92 L1232.97,606.08 L1234.46,606.24 L1235.95,606.40 L1237.44,606.55 L1238.92,606.70 L1240.41,606.85 L1241.90,607.00 L1243.39,607.15 L1244.88,607.30 L1246.37,607.44 L1247.86,607.59 L1249.35,607.73 L1250.85,607.88 L1252.34,608.03 L1253.83,608.17 L1255.32,608.32 L1256.81,608.47 L1258.30,608.61 L1259.79,608.76 L1261.28,608.91 L1262.77,609.07 L1264.26,609.22 L1265.75,609.38 L1267.24,609.54 L1268.73,609.70 L1270.22,609.86 L1271.71,610.02 L1273.20,610.19 L1274.69,610.36 L1276.18,610.54 L1277.67,610.72 L1279.15,610.90 L1280.64,611.08 L1282.13,611.27 L1283.62,611.46 L1285.10,611.66 L1286.59,611.85 L1288.08,612.05 L1289.56,612.26 L1291.05,612.46 L1292.53,612.67 L1294.02,612.88 L1295.50,613.10 L1296.99,613.32 L1298.47,613.54 L1299.95,613.76 L1301.44,613.98 L1302.92,614.21 L1304.40,614.44 L1305.89,614.67 L1307.37,614.91 L1308.85,615.14 L1310.33,615.38 L1311.81,615.62 L1313.29,615.87 L1314.78,616.11 L1316.26,616.36 L1317.74,616.61 L1319.22,616.86 L1320.70,617.12 L1322.17,617.37 L1323.65,617.63 L1325.13,617.89 L1326.61,618.15 L1328.09,618.41 L1329.57,618.68 L1331.04,618.94 L1332.52,619.21 L1334.00,619.48 L1335.47,619.75 L1336.95,620.02 L1338.43,620.29 L1339.90,620.57 L1341.38,620.84 L1342.85,621.12 L1344.33,621.40 L1345.80,621.68 L1347.27,621.96 L1348.75,622.24 L1350.22,622.52 L1351.69,622.80 L1353.17,623.09 L1354.64,623.37 L1356.11,623.66 L1357.58,623.95 L1359.05,624.23 L1360.52,624.52 L1362.00,624.81 L1363.47,625.10 L1364.94,625.39 L1366.41,625.69 L1367.88,625.98 L1369.35,626.27 L1370.81,626.57 L1372.28,626.86 L1373.75,627.16 L1375.22,627.45 L1376.69,627.75 L1378.16,628.05 L1379.63,628.35 L1381.09,628.64 L1382.56,628.94 L1384.03,629.24 L1385.50,629.54 L1386.96,629.85 L1388.43,630.15 L1389.90,630.45 L1391.36,630.75 L1392.83,631.06 L1394.30,631.36 L1395.76,631.67 L1397.23,631.97 L1398.69,632.28 L1400.16,632.58 L1401.63,632.89 L1403.09,633.20 L1404.56,633.50 L1406.02,633.81 L1407.49,634.12 L1408.95,634.43 L1410.42,634.74 L1411.88,635.05 L1413.35,635.36 L1414.81,635.67 L1416.28,635.98 L1417.74,636.29 L1419.20,636.60 L1420.67,636.91 L1422.13,637.22 L1423.60,637.53 L1425.06,637.84 L1426.53,638.16 L1427.99,638.47 L1429.45,638.78 L1430.92,639.09 L1432.38,639.41 L1433.85,639.72 L1435.31,640.03 L1436.78,640.35 L1438.24,640.66 L1439.70,640.97 L1441.17,641.28 L1442.63,641.60 L1444.10,641.91 L1445.56,642.22 L1447.03,642.54 L1448.49,642.85 L1449.96,643.16 L1451.42,643.48 L1452.89,643.79 L1454.35,644.10 L1455.82,644.42 L1457.28,644.73 L1458.75,645.04 L1460.21,645.36 L1461.68,645.67 L1463.14,645.98 L1464.61,646.29 L1466.07,646.60 L1467.54,646.92 L1469.00,647.23 L1470.47,647.54 L1471.94,647.85 L1473.40,648.16 L1474.87,648.47 L1476.34,648.78 L1477.80,649.09 L1479.27,649.40 L1480.74,649.71 L1482.20,650.02 L1483.67,650.33 L1485.14,650.64 L1486.61,650.95 L1488.08,651.25 L1489.54,651.56 L1491.01,651.87 L1492.48,652.17 L1493.95,652.48 L1495.42,652.78 L1496.89,653.09 L1498.36,653.39 L1499.83,653.70 L1501.30,654.00" stroke="#0000ff"/>
</g>
</svg>
</body></html>
